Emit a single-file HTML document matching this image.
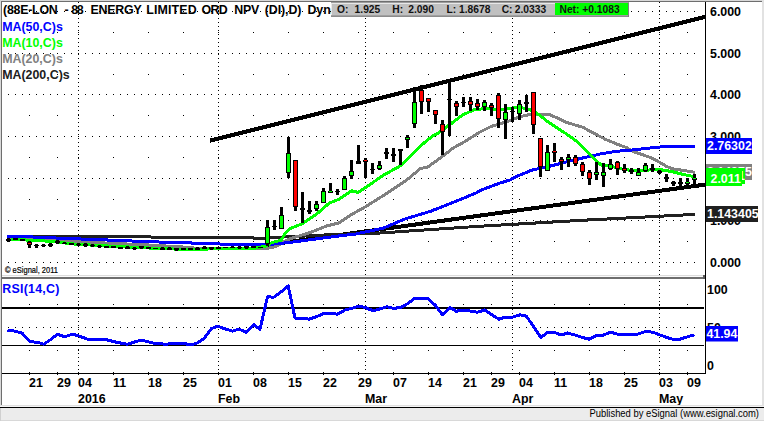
<!DOCTYPE html>
<html lang="en"><head><meta charset="utf-8"><title>88E-LON chart</title>
<style>
html,body{margin:0;padding:0;background:#fff;}
body{width:764px;height:421px;overflow:hidden;}
svg{display:block;}
text{white-space:pre;}
</style></head><body>
<svg width="764" height="421" viewBox="0 0 764 421">
<rect x="0" y="0" width="764" height="421" fill="#fff"/>
<g fill="#000" shape-rendering="crispEdges">
<rect x="8" y="11" width="1" height="1"/>
<rect x="15" y="11" width="1" height="1"/>
<rect x="22" y="11" width="1" height="1"/>
<rect x="29" y="11" width="1" height="1"/>
<rect x="36" y="11" width="1" height="1"/>
<rect x="43" y="11" width="1" height="1"/>
<rect x="50" y="11" width="1" height="1"/>
<rect x="57" y="11" width="1" height="1"/>
<rect x="64" y="11" width="1" height="1"/>
<rect x="71" y="11" width="1" height="1"/>
<rect x="78" y="11" width="1" height="1"/>
<rect x="85" y="11" width="1" height="1"/>
<rect x="92" y="11" width="1" height="1"/>
<rect x="99" y="11" width="1" height="1"/>
<rect x="106" y="11" width="1" height="1"/>
<rect x="113" y="11" width="1" height="1"/>
<rect x="120" y="11" width="1" height="1"/>
<rect x="127" y="11" width="1" height="1"/>
<rect x="134" y="11" width="1" height="1"/>
<rect x="141" y="11" width="1" height="1"/>
<rect x="148" y="11" width="1" height="1"/>
<rect x="155" y="11" width="1" height="1"/>
<rect x="162" y="11" width="1" height="1"/>
<rect x="169" y="11" width="1" height="1"/>
<rect x="176" y="11" width="1" height="1"/>
<rect x="183" y="11" width="1" height="1"/>
<rect x="190" y="11" width="1" height="1"/>
<rect x="197" y="11" width="1" height="1"/>
<rect x="204" y="11" width="1" height="1"/>
<rect x="211" y="11" width="1" height="1"/>
<rect x="218" y="11" width="1" height="1"/>
<rect x="225" y="11" width="1" height="1"/>
<rect x="232" y="11" width="1" height="1"/>
<rect x="239" y="11" width="1" height="1"/>
<rect x="246" y="11" width="1" height="1"/>
<rect x="253" y="11" width="1" height="1"/>
<rect x="260" y="11" width="1" height="1"/>
<rect x="267" y="11" width="1" height="1"/>
<rect x="274" y="11" width="1" height="1"/>
<rect x="281" y="11" width="1" height="1"/>
<rect x="288" y="11" width="1" height="1"/>
<rect x="295" y="11" width="1" height="1"/>
<rect x="302" y="11" width="1" height="1"/>
<rect x="309" y="11" width="1" height="1"/>
<rect x="316" y="11" width="1" height="1"/>
<rect x="323" y="11" width="1" height="1"/>
<rect x="330" y="11" width="1" height="1"/>
<rect x="337" y="11" width="1" height="1"/>
<rect x="344" y="11" width="1" height="1"/>
<rect x="351" y="11" width="1" height="1"/>
<rect x="358" y="11" width="1" height="1"/>
<rect x="365" y="11" width="1" height="1"/>
<rect x="372" y="11" width="1" height="1"/>
<rect x="379" y="11" width="1" height="1"/>
<rect x="386" y="11" width="1" height="1"/>
<rect x="393" y="11" width="1" height="1"/>
<rect x="400" y="11" width="1" height="1"/>
<rect x="407" y="11" width="1" height="1"/>
<rect x="414" y="11" width="1" height="1"/>
<rect x="421" y="11" width="1" height="1"/>
<rect x="428" y="11" width="1" height="1"/>
<rect x="435" y="11" width="1" height="1"/>
<rect x="442" y="11" width="1" height="1"/>
<rect x="449" y="11" width="1" height="1"/>
<rect x="456" y="11" width="1" height="1"/>
<rect x="463" y="11" width="1" height="1"/>
<rect x="470" y="11" width="1" height="1"/>
<rect x="477" y="11" width="1" height="1"/>
<rect x="484" y="11" width="1" height="1"/>
<rect x="491" y="11" width="1" height="1"/>
<rect x="498" y="11" width="1" height="1"/>
<rect x="505" y="11" width="1" height="1"/>
<rect x="512" y="11" width="1" height="1"/>
<rect x="519" y="11" width="1" height="1"/>
<rect x="526" y="11" width="1" height="1"/>
<rect x="533" y="11" width="1" height="1"/>
<rect x="540" y="11" width="1" height="1"/>
<rect x="547" y="11" width="1" height="1"/>
<rect x="554" y="11" width="1" height="1"/>
<rect x="561" y="11" width="1" height="1"/>
<rect x="568" y="11" width="1" height="1"/>
<rect x="575" y="11" width="1" height="1"/>
<rect x="582" y="11" width="1" height="1"/>
<rect x="589" y="11" width="1" height="1"/>
<rect x="596" y="11" width="1" height="1"/>
<rect x="603" y="11" width="1" height="1"/>
<rect x="610" y="11" width="1" height="1"/>
<rect x="617" y="11" width="1" height="1"/>
<rect x="624" y="11" width="1" height="1"/>
<rect x="631" y="11" width="1" height="1"/>
<rect x="638" y="11" width="1" height="1"/>
<rect x="645" y="11" width="1" height="1"/>
<rect x="652" y="11" width="1" height="1"/>
<rect x="659" y="11" width="1" height="1"/>
<rect x="666" y="11" width="1" height="1"/>
<rect x="673" y="11" width="1" height="1"/>
<rect x="680" y="11" width="1" height="1"/>
<rect x="687" y="11" width="1" height="1"/>
<rect x="694" y="11" width="1" height="1"/>
<rect x="8" y="53" width="1" height="1"/>
<rect x="15" y="53" width="1" height="1"/>
<rect x="22" y="53" width="1" height="1"/>
<rect x="29" y="53" width="1" height="1"/>
<rect x="36" y="53" width="1" height="1"/>
<rect x="43" y="53" width="1" height="1"/>
<rect x="50" y="53" width="1" height="1"/>
<rect x="57" y="53" width="1" height="1"/>
<rect x="64" y="53" width="1" height="1"/>
<rect x="71" y="53" width="1" height="1"/>
<rect x="78" y="53" width="1" height="1"/>
<rect x="85" y="53" width="1" height="1"/>
<rect x="92" y="53" width="1" height="1"/>
<rect x="99" y="53" width="1" height="1"/>
<rect x="106" y="53" width="1" height="1"/>
<rect x="113" y="53" width="1" height="1"/>
<rect x="120" y="53" width="1" height="1"/>
<rect x="127" y="53" width="1" height="1"/>
<rect x="134" y="53" width="1" height="1"/>
<rect x="141" y="53" width="1" height="1"/>
<rect x="148" y="53" width="1" height="1"/>
<rect x="155" y="53" width="1" height="1"/>
<rect x="162" y="53" width="1" height="1"/>
<rect x="169" y="53" width="1" height="1"/>
<rect x="176" y="53" width="1" height="1"/>
<rect x="183" y="53" width="1" height="1"/>
<rect x="190" y="53" width="1" height="1"/>
<rect x="197" y="53" width="1" height="1"/>
<rect x="204" y="53" width="1" height="1"/>
<rect x="211" y="53" width="1" height="1"/>
<rect x="218" y="53" width="1" height="1"/>
<rect x="225" y="53" width="1" height="1"/>
<rect x="232" y="53" width="1" height="1"/>
<rect x="239" y="53" width="1" height="1"/>
<rect x="246" y="53" width="1" height="1"/>
<rect x="253" y="53" width="1" height="1"/>
<rect x="260" y="53" width="1" height="1"/>
<rect x="267" y="53" width="1" height="1"/>
<rect x="274" y="53" width="1" height="1"/>
<rect x="281" y="53" width="1" height="1"/>
<rect x="288" y="53" width="1" height="1"/>
<rect x="295" y="53" width="1" height="1"/>
<rect x="302" y="53" width="1" height="1"/>
<rect x="309" y="53" width="1" height="1"/>
<rect x="316" y="53" width="1" height="1"/>
<rect x="323" y="53" width="1" height="1"/>
<rect x="330" y="53" width="1" height="1"/>
<rect x="337" y="53" width="1" height="1"/>
<rect x="344" y="53" width="1" height="1"/>
<rect x="351" y="53" width="1" height="1"/>
<rect x="358" y="53" width="1" height="1"/>
<rect x="365" y="53" width="1" height="1"/>
<rect x="372" y="53" width="1" height="1"/>
<rect x="379" y="53" width="1" height="1"/>
<rect x="386" y="53" width="1" height="1"/>
<rect x="393" y="53" width="1" height="1"/>
<rect x="400" y="53" width="1" height="1"/>
<rect x="407" y="53" width="1" height="1"/>
<rect x="414" y="53" width="1" height="1"/>
<rect x="421" y="53" width="1" height="1"/>
<rect x="428" y="53" width="1" height="1"/>
<rect x="435" y="53" width="1" height="1"/>
<rect x="442" y="53" width="1" height="1"/>
<rect x="449" y="53" width="1" height="1"/>
<rect x="456" y="53" width="1" height="1"/>
<rect x="463" y="53" width="1" height="1"/>
<rect x="470" y="53" width="1" height="1"/>
<rect x="477" y="53" width="1" height="1"/>
<rect x="484" y="53" width="1" height="1"/>
<rect x="491" y="53" width="1" height="1"/>
<rect x="498" y="53" width="1" height="1"/>
<rect x="505" y="53" width="1" height="1"/>
<rect x="512" y="53" width="1" height="1"/>
<rect x="519" y="53" width="1" height="1"/>
<rect x="526" y="53" width="1" height="1"/>
<rect x="533" y="53" width="1" height="1"/>
<rect x="540" y="53" width="1" height="1"/>
<rect x="547" y="53" width="1" height="1"/>
<rect x="554" y="53" width="1" height="1"/>
<rect x="561" y="53" width="1" height="1"/>
<rect x="568" y="53" width="1" height="1"/>
<rect x="575" y="53" width="1" height="1"/>
<rect x="582" y="53" width="1" height="1"/>
<rect x="589" y="53" width="1" height="1"/>
<rect x="596" y="53" width="1" height="1"/>
<rect x="603" y="53" width="1" height="1"/>
<rect x="610" y="53" width="1" height="1"/>
<rect x="617" y="53" width="1" height="1"/>
<rect x="624" y="53" width="1" height="1"/>
<rect x="631" y="53" width="1" height="1"/>
<rect x="638" y="53" width="1" height="1"/>
<rect x="645" y="53" width="1" height="1"/>
<rect x="652" y="53" width="1" height="1"/>
<rect x="659" y="53" width="1" height="1"/>
<rect x="666" y="53" width="1" height="1"/>
<rect x="673" y="53" width="1" height="1"/>
<rect x="680" y="53" width="1" height="1"/>
<rect x="687" y="53" width="1" height="1"/>
<rect x="694" y="53" width="1" height="1"/>
<rect x="8" y="94" width="1" height="1"/>
<rect x="15" y="94" width="1" height="1"/>
<rect x="22" y="94" width="1" height="1"/>
<rect x="29" y="94" width="1" height="1"/>
<rect x="36" y="94" width="1" height="1"/>
<rect x="43" y="94" width="1" height="1"/>
<rect x="50" y="94" width="1" height="1"/>
<rect x="57" y="94" width="1" height="1"/>
<rect x="64" y="94" width="1" height="1"/>
<rect x="71" y="94" width="1" height="1"/>
<rect x="78" y="94" width="1" height="1"/>
<rect x="85" y="94" width="1" height="1"/>
<rect x="92" y="94" width="1" height="1"/>
<rect x="99" y="94" width="1" height="1"/>
<rect x="106" y="94" width="1" height="1"/>
<rect x="113" y="94" width="1" height="1"/>
<rect x="120" y="94" width="1" height="1"/>
<rect x="127" y="94" width="1" height="1"/>
<rect x="134" y="94" width="1" height="1"/>
<rect x="141" y="94" width="1" height="1"/>
<rect x="148" y="94" width="1" height="1"/>
<rect x="155" y="94" width="1" height="1"/>
<rect x="162" y="94" width="1" height="1"/>
<rect x="169" y="94" width="1" height="1"/>
<rect x="176" y="94" width="1" height="1"/>
<rect x="183" y="94" width="1" height="1"/>
<rect x="190" y="94" width="1" height="1"/>
<rect x="197" y="94" width="1" height="1"/>
<rect x="204" y="94" width="1" height="1"/>
<rect x="211" y="94" width="1" height="1"/>
<rect x="218" y="94" width="1" height="1"/>
<rect x="225" y="94" width="1" height="1"/>
<rect x="232" y="94" width="1" height="1"/>
<rect x="239" y="94" width="1" height="1"/>
<rect x="246" y="94" width="1" height="1"/>
<rect x="253" y="94" width="1" height="1"/>
<rect x="260" y="94" width="1" height="1"/>
<rect x="267" y="94" width="1" height="1"/>
<rect x="274" y="94" width="1" height="1"/>
<rect x="281" y="94" width="1" height="1"/>
<rect x="288" y="94" width="1" height="1"/>
<rect x="295" y="94" width="1" height="1"/>
<rect x="302" y="94" width="1" height="1"/>
<rect x="309" y="94" width="1" height="1"/>
<rect x="316" y="94" width="1" height="1"/>
<rect x="323" y="94" width="1" height="1"/>
<rect x="330" y="94" width="1" height="1"/>
<rect x="337" y="94" width="1" height="1"/>
<rect x="344" y="94" width="1" height="1"/>
<rect x="351" y="94" width="1" height="1"/>
<rect x="358" y="94" width="1" height="1"/>
<rect x="365" y="94" width="1" height="1"/>
<rect x="372" y="94" width="1" height="1"/>
<rect x="379" y="94" width="1" height="1"/>
<rect x="386" y="94" width="1" height="1"/>
<rect x="393" y="94" width="1" height="1"/>
<rect x="400" y="94" width="1" height="1"/>
<rect x="407" y="94" width="1" height="1"/>
<rect x="414" y="94" width="1" height="1"/>
<rect x="421" y="94" width="1" height="1"/>
<rect x="428" y="94" width="1" height="1"/>
<rect x="435" y="94" width="1" height="1"/>
<rect x="442" y="94" width="1" height="1"/>
<rect x="449" y="94" width="1" height="1"/>
<rect x="456" y="94" width="1" height="1"/>
<rect x="463" y="94" width="1" height="1"/>
<rect x="470" y="94" width="1" height="1"/>
<rect x="477" y="94" width="1" height="1"/>
<rect x="484" y="94" width="1" height="1"/>
<rect x="491" y="94" width="1" height="1"/>
<rect x="498" y="94" width="1" height="1"/>
<rect x="505" y="94" width="1" height="1"/>
<rect x="512" y="94" width="1" height="1"/>
<rect x="519" y="94" width="1" height="1"/>
<rect x="526" y="94" width="1" height="1"/>
<rect x="533" y="94" width="1" height="1"/>
<rect x="540" y="94" width="1" height="1"/>
<rect x="547" y="94" width="1" height="1"/>
<rect x="554" y="94" width="1" height="1"/>
<rect x="561" y="94" width="1" height="1"/>
<rect x="568" y="94" width="1" height="1"/>
<rect x="575" y="94" width="1" height="1"/>
<rect x="582" y="94" width="1" height="1"/>
<rect x="589" y="94" width="1" height="1"/>
<rect x="596" y="94" width="1" height="1"/>
<rect x="603" y="94" width="1" height="1"/>
<rect x="610" y="94" width="1" height="1"/>
<rect x="617" y="94" width="1" height="1"/>
<rect x="624" y="94" width="1" height="1"/>
<rect x="631" y="94" width="1" height="1"/>
<rect x="638" y="94" width="1" height="1"/>
<rect x="645" y="94" width="1" height="1"/>
<rect x="652" y="94" width="1" height="1"/>
<rect x="659" y="94" width="1" height="1"/>
<rect x="666" y="94" width="1" height="1"/>
<rect x="673" y="94" width="1" height="1"/>
<rect x="680" y="94" width="1" height="1"/>
<rect x="687" y="94" width="1" height="1"/>
<rect x="694" y="94" width="1" height="1"/>
<rect x="8" y="136" width="1" height="1"/>
<rect x="15" y="136" width="1" height="1"/>
<rect x="22" y="136" width="1" height="1"/>
<rect x="29" y="136" width="1" height="1"/>
<rect x="36" y="136" width="1" height="1"/>
<rect x="43" y="136" width="1" height="1"/>
<rect x="50" y="136" width="1" height="1"/>
<rect x="57" y="136" width="1" height="1"/>
<rect x="64" y="136" width="1" height="1"/>
<rect x="71" y="136" width="1" height="1"/>
<rect x="78" y="136" width="1" height="1"/>
<rect x="85" y="136" width="1" height="1"/>
<rect x="92" y="136" width="1" height="1"/>
<rect x="99" y="136" width="1" height="1"/>
<rect x="106" y="136" width="1" height="1"/>
<rect x="113" y="136" width="1" height="1"/>
<rect x="120" y="136" width="1" height="1"/>
<rect x="127" y="136" width="1" height="1"/>
<rect x="134" y="136" width="1" height="1"/>
<rect x="141" y="136" width="1" height="1"/>
<rect x="148" y="136" width="1" height="1"/>
<rect x="155" y="136" width="1" height="1"/>
<rect x="162" y="136" width="1" height="1"/>
<rect x="169" y="136" width="1" height="1"/>
<rect x="176" y="136" width="1" height="1"/>
<rect x="183" y="136" width="1" height="1"/>
<rect x="190" y="136" width="1" height="1"/>
<rect x="197" y="136" width="1" height="1"/>
<rect x="204" y="136" width="1" height="1"/>
<rect x="211" y="136" width="1" height="1"/>
<rect x="218" y="136" width="1" height="1"/>
<rect x="225" y="136" width="1" height="1"/>
<rect x="232" y="136" width="1" height="1"/>
<rect x="239" y="136" width="1" height="1"/>
<rect x="246" y="136" width="1" height="1"/>
<rect x="253" y="136" width="1" height="1"/>
<rect x="260" y="136" width="1" height="1"/>
<rect x="267" y="136" width="1" height="1"/>
<rect x="274" y="136" width="1" height="1"/>
<rect x="281" y="136" width="1" height="1"/>
<rect x="288" y="136" width="1" height="1"/>
<rect x="295" y="136" width="1" height="1"/>
<rect x="302" y="136" width="1" height="1"/>
<rect x="309" y="136" width="1" height="1"/>
<rect x="316" y="136" width="1" height="1"/>
<rect x="323" y="136" width="1" height="1"/>
<rect x="330" y="136" width="1" height="1"/>
<rect x="337" y="136" width="1" height="1"/>
<rect x="344" y="136" width="1" height="1"/>
<rect x="351" y="136" width="1" height="1"/>
<rect x="358" y="136" width="1" height="1"/>
<rect x="365" y="136" width="1" height="1"/>
<rect x="372" y="136" width="1" height="1"/>
<rect x="379" y="136" width="1" height="1"/>
<rect x="386" y="136" width="1" height="1"/>
<rect x="393" y="136" width="1" height="1"/>
<rect x="400" y="136" width="1" height="1"/>
<rect x="407" y="136" width="1" height="1"/>
<rect x="414" y="136" width="1" height="1"/>
<rect x="421" y="136" width="1" height="1"/>
<rect x="428" y="136" width="1" height="1"/>
<rect x="435" y="136" width="1" height="1"/>
<rect x="442" y="136" width="1" height="1"/>
<rect x="449" y="136" width="1" height="1"/>
<rect x="456" y="136" width="1" height="1"/>
<rect x="463" y="136" width="1" height="1"/>
<rect x="470" y="136" width="1" height="1"/>
<rect x="477" y="136" width="1" height="1"/>
<rect x="484" y="136" width="1" height="1"/>
<rect x="491" y="136" width="1" height="1"/>
<rect x="498" y="136" width="1" height="1"/>
<rect x="505" y="136" width="1" height="1"/>
<rect x="512" y="136" width="1" height="1"/>
<rect x="519" y="136" width="1" height="1"/>
<rect x="526" y="136" width="1" height="1"/>
<rect x="533" y="136" width="1" height="1"/>
<rect x="540" y="136" width="1" height="1"/>
<rect x="547" y="136" width="1" height="1"/>
<rect x="554" y="136" width="1" height="1"/>
<rect x="561" y="136" width="1" height="1"/>
<rect x="568" y="136" width="1" height="1"/>
<rect x="575" y="136" width="1" height="1"/>
<rect x="582" y="136" width="1" height="1"/>
<rect x="589" y="136" width="1" height="1"/>
<rect x="596" y="136" width="1" height="1"/>
<rect x="603" y="136" width="1" height="1"/>
<rect x="610" y="136" width="1" height="1"/>
<rect x="617" y="136" width="1" height="1"/>
<rect x="624" y="136" width="1" height="1"/>
<rect x="631" y="136" width="1" height="1"/>
<rect x="638" y="136" width="1" height="1"/>
<rect x="645" y="136" width="1" height="1"/>
<rect x="652" y="136" width="1" height="1"/>
<rect x="659" y="136" width="1" height="1"/>
<rect x="666" y="136" width="1" height="1"/>
<rect x="673" y="136" width="1" height="1"/>
<rect x="680" y="136" width="1" height="1"/>
<rect x="687" y="136" width="1" height="1"/>
<rect x="694" y="136" width="1" height="1"/>
<rect x="8" y="178" width="1" height="1"/>
<rect x="15" y="178" width="1" height="1"/>
<rect x="22" y="178" width="1" height="1"/>
<rect x="29" y="178" width="1" height="1"/>
<rect x="36" y="178" width="1" height="1"/>
<rect x="43" y="178" width="1" height="1"/>
<rect x="50" y="178" width="1" height="1"/>
<rect x="57" y="178" width="1" height="1"/>
<rect x="64" y="178" width="1" height="1"/>
<rect x="71" y="178" width="1" height="1"/>
<rect x="78" y="178" width="1" height="1"/>
<rect x="85" y="178" width="1" height="1"/>
<rect x="92" y="178" width="1" height="1"/>
<rect x="99" y="178" width="1" height="1"/>
<rect x="106" y="178" width="1" height="1"/>
<rect x="113" y="178" width="1" height="1"/>
<rect x="120" y="178" width="1" height="1"/>
<rect x="127" y="178" width="1" height="1"/>
<rect x="134" y="178" width="1" height="1"/>
<rect x="141" y="178" width="1" height="1"/>
<rect x="148" y="178" width="1" height="1"/>
<rect x="155" y="178" width="1" height="1"/>
<rect x="162" y="178" width="1" height="1"/>
<rect x="169" y="178" width="1" height="1"/>
<rect x="176" y="178" width="1" height="1"/>
<rect x="183" y="178" width="1" height="1"/>
<rect x="190" y="178" width="1" height="1"/>
<rect x="197" y="178" width="1" height="1"/>
<rect x="204" y="178" width="1" height="1"/>
<rect x="211" y="178" width="1" height="1"/>
<rect x="218" y="178" width="1" height="1"/>
<rect x="225" y="178" width="1" height="1"/>
<rect x="232" y="178" width="1" height="1"/>
<rect x="239" y="178" width="1" height="1"/>
<rect x="246" y="178" width="1" height="1"/>
<rect x="253" y="178" width="1" height="1"/>
<rect x="260" y="178" width="1" height="1"/>
<rect x="267" y="178" width="1" height="1"/>
<rect x="274" y="178" width="1" height="1"/>
<rect x="281" y="178" width="1" height="1"/>
<rect x="288" y="178" width="1" height="1"/>
<rect x="295" y="178" width="1" height="1"/>
<rect x="302" y="178" width="1" height="1"/>
<rect x="309" y="178" width="1" height="1"/>
<rect x="316" y="178" width="1" height="1"/>
<rect x="323" y="178" width="1" height="1"/>
<rect x="330" y="178" width="1" height="1"/>
<rect x="337" y="178" width="1" height="1"/>
<rect x="344" y="178" width="1" height="1"/>
<rect x="351" y="178" width="1" height="1"/>
<rect x="358" y="178" width="1" height="1"/>
<rect x="365" y="178" width="1" height="1"/>
<rect x="372" y="178" width="1" height="1"/>
<rect x="379" y="178" width="1" height="1"/>
<rect x="386" y="178" width="1" height="1"/>
<rect x="393" y="178" width="1" height="1"/>
<rect x="400" y="178" width="1" height="1"/>
<rect x="407" y="178" width="1" height="1"/>
<rect x="414" y="178" width="1" height="1"/>
<rect x="421" y="178" width="1" height="1"/>
<rect x="428" y="178" width="1" height="1"/>
<rect x="435" y="178" width="1" height="1"/>
<rect x="442" y="178" width="1" height="1"/>
<rect x="449" y="178" width="1" height="1"/>
<rect x="456" y="178" width="1" height="1"/>
<rect x="463" y="178" width="1" height="1"/>
<rect x="470" y="178" width="1" height="1"/>
<rect x="477" y="178" width="1" height="1"/>
<rect x="484" y="178" width="1" height="1"/>
<rect x="491" y="178" width="1" height="1"/>
<rect x="498" y="178" width="1" height="1"/>
<rect x="505" y="178" width="1" height="1"/>
<rect x="512" y="178" width="1" height="1"/>
<rect x="519" y="178" width="1" height="1"/>
<rect x="526" y="178" width="1" height="1"/>
<rect x="533" y="178" width="1" height="1"/>
<rect x="540" y="178" width="1" height="1"/>
<rect x="547" y="178" width="1" height="1"/>
<rect x="554" y="178" width="1" height="1"/>
<rect x="561" y="178" width="1" height="1"/>
<rect x="568" y="178" width="1" height="1"/>
<rect x="575" y="178" width="1" height="1"/>
<rect x="582" y="178" width="1" height="1"/>
<rect x="589" y="178" width="1" height="1"/>
<rect x="596" y="178" width="1" height="1"/>
<rect x="603" y="178" width="1" height="1"/>
<rect x="610" y="178" width="1" height="1"/>
<rect x="617" y="178" width="1" height="1"/>
<rect x="624" y="178" width="1" height="1"/>
<rect x="631" y="178" width="1" height="1"/>
<rect x="638" y="178" width="1" height="1"/>
<rect x="645" y="178" width="1" height="1"/>
<rect x="652" y="178" width="1" height="1"/>
<rect x="659" y="178" width="1" height="1"/>
<rect x="666" y="178" width="1" height="1"/>
<rect x="673" y="178" width="1" height="1"/>
<rect x="680" y="178" width="1" height="1"/>
<rect x="687" y="178" width="1" height="1"/>
<rect x="694" y="178" width="1" height="1"/>
<rect x="8" y="220" width="1" height="1"/>
<rect x="15" y="220" width="1" height="1"/>
<rect x="22" y="220" width="1" height="1"/>
<rect x="29" y="220" width="1" height="1"/>
<rect x="36" y="220" width="1" height="1"/>
<rect x="43" y="220" width="1" height="1"/>
<rect x="50" y="220" width="1" height="1"/>
<rect x="57" y="220" width="1" height="1"/>
<rect x="64" y="220" width="1" height="1"/>
<rect x="71" y="220" width="1" height="1"/>
<rect x="78" y="220" width="1" height="1"/>
<rect x="85" y="220" width="1" height="1"/>
<rect x="92" y="220" width="1" height="1"/>
<rect x="99" y="220" width="1" height="1"/>
<rect x="106" y="220" width="1" height="1"/>
<rect x="113" y="220" width="1" height="1"/>
<rect x="120" y="220" width="1" height="1"/>
<rect x="127" y="220" width="1" height="1"/>
<rect x="134" y="220" width="1" height="1"/>
<rect x="141" y="220" width="1" height="1"/>
<rect x="148" y="220" width="1" height="1"/>
<rect x="155" y="220" width="1" height="1"/>
<rect x="162" y="220" width="1" height="1"/>
<rect x="169" y="220" width="1" height="1"/>
<rect x="176" y="220" width="1" height="1"/>
<rect x="183" y="220" width="1" height="1"/>
<rect x="190" y="220" width="1" height="1"/>
<rect x="197" y="220" width="1" height="1"/>
<rect x="204" y="220" width="1" height="1"/>
<rect x="211" y="220" width="1" height="1"/>
<rect x="218" y="220" width="1" height="1"/>
<rect x="225" y="220" width="1" height="1"/>
<rect x="232" y="220" width="1" height="1"/>
<rect x="239" y="220" width="1" height="1"/>
<rect x="246" y="220" width="1" height="1"/>
<rect x="253" y="220" width="1" height="1"/>
<rect x="260" y="220" width="1" height="1"/>
<rect x="267" y="220" width="1" height="1"/>
<rect x="274" y="220" width="1" height="1"/>
<rect x="281" y="220" width="1" height="1"/>
<rect x="288" y="220" width="1" height="1"/>
<rect x="295" y="220" width="1" height="1"/>
<rect x="302" y="220" width="1" height="1"/>
<rect x="309" y="220" width="1" height="1"/>
<rect x="316" y="220" width="1" height="1"/>
<rect x="323" y="220" width="1" height="1"/>
<rect x="330" y="220" width="1" height="1"/>
<rect x="337" y="220" width="1" height="1"/>
<rect x="344" y="220" width="1" height="1"/>
<rect x="351" y="220" width="1" height="1"/>
<rect x="358" y="220" width="1" height="1"/>
<rect x="365" y="220" width="1" height="1"/>
<rect x="372" y="220" width="1" height="1"/>
<rect x="379" y="220" width="1" height="1"/>
<rect x="386" y="220" width="1" height="1"/>
<rect x="393" y="220" width="1" height="1"/>
<rect x="400" y="220" width="1" height="1"/>
<rect x="407" y="220" width="1" height="1"/>
<rect x="414" y="220" width="1" height="1"/>
<rect x="421" y="220" width="1" height="1"/>
<rect x="428" y="220" width="1" height="1"/>
<rect x="435" y="220" width="1" height="1"/>
<rect x="442" y="220" width="1" height="1"/>
<rect x="449" y="220" width="1" height="1"/>
<rect x="456" y="220" width="1" height="1"/>
<rect x="463" y="220" width="1" height="1"/>
<rect x="470" y="220" width="1" height="1"/>
<rect x="477" y="220" width="1" height="1"/>
<rect x="484" y="220" width="1" height="1"/>
<rect x="491" y="220" width="1" height="1"/>
<rect x="498" y="220" width="1" height="1"/>
<rect x="505" y="220" width="1" height="1"/>
<rect x="512" y="220" width="1" height="1"/>
<rect x="519" y="220" width="1" height="1"/>
<rect x="526" y="220" width="1" height="1"/>
<rect x="533" y="220" width="1" height="1"/>
<rect x="540" y="220" width="1" height="1"/>
<rect x="547" y="220" width="1" height="1"/>
<rect x="554" y="220" width="1" height="1"/>
<rect x="561" y="220" width="1" height="1"/>
<rect x="568" y="220" width="1" height="1"/>
<rect x="575" y="220" width="1" height="1"/>
<rect x="582" y="220" width="1" height="1"/>
<rect x="589" y="220" width="1" height="1"/>
<rect x="596" y="220" width="1" height="1"/>
<rect x="603" y="220" width="1" height="1"/>
<rect x="610" y="220" width="1" height="1"/>
<rect x="617" y="220" width="1" height="1"/>
<rect x="624" y="220" width="1" height="1"/>
<rect x="631" y="220" width="1" height="1"/>
<rect x="638" y="220" width="1" height="1"/>
<rect x="645" y="220" width="1" height="1"/>
<rect x="652" y="220" width="1" height="1"/>
<rect x="659" y="220" width="1" height="1"/>
<rect x="666" y="220" width="1" height="1"/>
<rect x="673" y="220" width="1" height="1"/>
<rect x="680" y="220" width="1" height="1"/>
<rect x="687" y="220" width="1" height="1"/>
<rect x="694" y="220" width="1" height="1"/>
<rect x="8" y="262" width="1" height="1"/>
<rect x="15" y="262" width="1" height="1"/>
<rect x="22" y="262" width="1" height="1"/>
<rect x="29" y="262" width="1" height="1"/>
<rect x="36" y="262" width="1" height="1"/>
<rect x="43" y="262" width="1" height="1"/>
<rect x="50" y="262" width="1" height="1"/>
<rect x="57" y="262" width="1" height="1"/>
<rect x="64" y="262" width="1" height="1"/>
<rect x="71" y="262" width="1" height="1"/>
<rect x="78" y="262" width="1" height="1"/>
<rect x="85" y="262" width="1" height="1"/>
<rect x="92" y="262" width="1" height="1"/>
<rect x="99" y="262" width="1" height="1"/>
<rect x="106" y="262" width="1" height="1"/>
<rect x="113" y="262" width="1" height="1"/>
<rect x="120" y="262" width="1" height="1"/>
<rect x="127" y="262" width="1" height="1"/>
<rect x="134" y="262" width="1" height="1"/>
<rect x="141" y="262" width="1" height="1"/>
<rect x="148" y="262" width="1" height="1"/>
<rect x="155" y="262" width="1" height="1"/>
<rect x="162" y="262" width="1" height="1"/>
<rect x="169" y="262" width="1" height="1"/>
<rect x="176" y="262" width="1" height="1"/>
<rect x="183" y="262" width="1" height="1"/>
<rect x="190" y="262" width="1" height="1"/>
<rect x="197" y="262" width="1" height="1"/>
<rect x="204" y="262" width="1" height="1"/>
<rect x="211" y="262" width="1" height="1"/>
<rect x="218" y="262" width="1" height="1"/>
<rect x="225" y="262" width="1" height="1"/>
<rect x="232" y="262" width="1" height="1"/>
<rect x="239" y="262" width="1" height="1"/>
<rect x="246" y="262" width="1" height="1"/>
<rect x="253" y="262" width="1" height="1"/>
<rect x="260" y="262" width="1" height="1"/>
<rect x="267" y="262" width="1" height="1"/>
<rect x="274" y="262" width="1" height="1"/>
<rect x="281" y="262" width="1" height="1"/>
<rect x="288" y="262" width="1" height="1"/>
<rect x="295" y="262" width="1" height="1"/>
<rect x="302" y="262" width="1" height="1"/>
<rect x="309" y="262" width="1" height="1"/>
<rect x="316" y="262" width="1" height="1"/>
<rect x="323" y="262" width="1" height="1"/>
<rect x="330" y="262" width="1" height="1"/>
<rect x="337" y="262" width="1" height="1"/>
<rect x="344" y="262" width="1" height="1"/>
<rect x="351" y="262" width="1" height="1"/>
<rect x="358" y="262" width="1" height="1"/>
<rect x="365" y="262" width="1" height="1"/>
<rect x="372" y="262" width="1" height="1"/>
<rect x="379" y="262" width="1" height="1"/>
<rect x="386" y="262" width="1" height="1"/>
<rect x="393" y="262" width="1" height="1"/>
<rect x="400" y="262" width="1" height="1"/>
<rect x="407" y="262" width="1" height="1"/>
<rect x="414" y="262" width="1" height="1"/>
<rect x="421" y="262" width="1" height="1"/>
<rect x="428" y="262" width="1" height="1"/>
<rect x="435" y="262" width="1" height="1"/>
<rect x="442" y="262" width="1" height="1"/>
<rect x="449" y="262" width="1" height="1"/>
<rect x="456" y="262" width="1" height="1"/>
<rect x="463" y="262" width="1" height="1"/>
<rect x="470" y="262" width="1" height="1"/>
<rect x="477" y="262" width="1" height="1"/>
<rect x="484" y="262" width="1" height="1"/>
<rect x="491" y="262" width="1" height="1"/>
<rect x="498" y="262" width="1" height="1"/>
<rect x="505" y="262" width="1" height="1"/>
<rect x="512" y="262" width="1" height="1"/>
<rect x="519" y="262" width="1" height="1"/>
<rect x="526" y="262" width="1" height="1"/>
<rect x="533" y="262" width="1" height="1"/>
<rect x="540" y="262" width="1" height="1"/>
<rect x="547" y="262" width="1" height="1"/>
<rect x="554" y="262" width="1" height="1"/>
<rect x="561" y="262" width="1" height="1"/>
<rect x="568" y="262" width="1" height="1"/>
<rect x="575" y="262" width="1" height="1"/>
<rect x="582" y="262" width="1" height="1"/>
<rect x="589" y="262" width="1" height="1"/>
<rect x="596" y="262" width="1" height="1"/>
<rect x="603" y="262" width="1" height="1"/>
<rect x="610" y="262" width="1" height="1"/>
<rect x="617" y="262" width="1" height="1"/>
<rect x="624" y="262" width="1" height="1"/>
<rect x="631" y="262" width="1" height="1"/>
<rect x="638" y="262" width="1" height="1"/>
<rect x="645" y="262" width="1" height="1"/>
<rect x="652" y="262" width="1" height="1"/>
<rect x="659" y="262" width="1" height="1"/>
<rect x="666" y="262" width="1" height="1"/>
<rect x="673" y="262" width="1" height="1"/>
<rect x="680" y="262" width="1" height="1"/>
<rect x="687" y="262" width="1" height="1"/>
<rect x="694" y="262" width="1" height="1"/>
<rect x="29" y="32" width="1" height="1"/>
<rect x="57" y="32" width="1" height="1"/>
<rect x="78" y="32" width="1" height="1"/>
<rect x="113" y="32" width="1" height="1"/>
<rect x="148" y="32" width="1" height="1"/>
<rect x="183" y="32" width="1" height="1"/>
<rect x="218" y="32" width="1" height="1"/>
<rect x="253" y="32" width="1" height="1"/>
<rect x="288" y="32" width="1" height="1"/>
<rect x="323" y="32" width="1" height="1"/>
<rect x="358" y="32" width="1" height="1"/>
<rect x="393" y="32" width="1" height="1"/>
<rect x="428" y="32" width="1" height="1"/>
<rect x="463" y="32" width="1" height="1"/>
<rect x="491" y="32" width="1" height="1"/>
<rect x="519" y="32" width="1" height="1"/>
<rect x="554" y="32" width="1" height="1"/>
<rect x="589" y="32" width="1" height="1"/>
<rect x="624" y="32" width="1" height="1"/>
<rect x="659" y="32" width="1" height="1"/>
<rect x="687" y="32" width="1" height="1"/>
<rect x="29" y="74" width="1" height="1"/>
<rect x="57" y="74" width="1" height="1"/>
<rect x="78" y="74" width="1" height="1"/>
<rect x="113" y="74" width="1" height="1"/>
<rect x="148" y="74" width="1" height="1"/>
<rect x="183" y="74" width="1" height="1"/>
<rect x="218" y="74" width="1" height="1"/>
<rect x="253" y="74" width="1" height="1"/>
<rect x="288" y="74" width="1" height="1"/>
<rect x="323" y="74" width="1" height="1"/>
<rect x="358" y="74" width="1" height="1"/>
<rect x="393" y="74" width="1" height="1"/>
<rect x="428" y="74" width="1" height="1"/>
<rect x="463" y="74" width="1" height="1"/>
<rect x="491" y="74" width="1" height="1"/>
<rect x="519" y="74" width="1" height="1"/>
<rect x="554" y="74" width="1" height="1"/>
<rect x="589" y="74" width="1" height="1"/>
<rect x="624" y="74" width="1" height="1"/>
<rect x="659" y="74" width="1" height="1"/>
<rect x="687" y="74" width="1" height="1"/>
<rect x="29" y="115" width="1" height="1"/>
<rect x="57" y="115" width="1" height="1"/>
<rect x="78" y="115" width="1" height="1"/>
<rect x="113" y="115" width="1" height="1"/>
<rect x="148" y="115" width="1" height="1"/>
<rect x="183" y="115" width="1" height="1"/>
<rect x="218" y="115" width="1" height="1"/>
<rect x="253" y="115" width="1" height="1"/>
<rect x="288" y="115" width="1" height="1"/>
<rect x="323" y="115" width="1" height="1"/>
<rect x="358" y="115" width="1" height="1"/>
<rect x="393" y="115" width="1" height="1"/>
<rect x="428" y="115" width="1" height="1"/>
<rect x="463" y="115" width="1" height="1"/>
<rect x="491" y="115" width="1" height="1"/>
<rect x="519" y="115" width="1" height="1"/>
<rect x="554" y="115" width="1" height="1"/>
<rect x="589" y="115" width="1" height="1"/>
<rect x="624" y="115" width="1" height="1"/>
<rect x="659" y="115" width="1" height="1"/>
<rect x="687" y="115" width="1" height="1"/>
<rect x="29" y="157" width="1" height="1"/>
<rect x="57" y="157" width="1" height="1"/>
<rect x="78" y="157" width="1" height="1"/>
<rect x="113" y="157" width="1" height="1"/>
<rect x="148" y="157" width="1" height="1"/>
<rect x="183" y="157" width="1" height="1"/>
<rect x="218" y="157" width="1" height="1"/>
<rect x="253" y="157" width="1" height="1"/>
<rect x="288" y="157" width="1" height="1"/>
<rect x="323" y="157" width="1" height="1"/>
<rect x="358" y="157" width="1" height="1"/>
<rect x="393" y="157" width="1" height="1"/>
<rect x="428" y="157" width="1" height="1"/>
<rect x="463" y="157" width="1" height="1"/>
<rect x="491" y="157" width="1" height="1"/>
<rect x="519" y="157" width="1" height="1"/>
<rect x="554" y="157" width="1" height="1"/>
<rect x="589" y="157" width="1" height="1"/>
<rect x="624" y="157" width="1" height="1"/>
<rect x="659" y="157" width="1" height="1"/>
<rect x="687" y="157" width="1" height="1"/>
<rect x="29" y="199" width="1" height="1"/>
<rect x="57" y="199" width="1" height="1"/>
<rect x="78" y="199" width="1" height="1"/>
<rect x="113" y="199" width="1" height="1"/>
<rect x="148" y="199" width="1" height="1"/>
<rect x="183" y="199" width="1" height="1"/>
<rect x="218" y="199" width="1" height="1"/>
<rect x="253" y="199" width="1" height="1"/>
<rect x="288" y="199" width="1" height="1"/>
<rect x="323" y="199" width="1" height="1"/>
<rect x="358" y="199" width="1" height="1"/>
<rect x="393" y="199" width="1" height="1"/>
<rect x="428" y="199" width="1" height="1"/>
<rect x="463" y="199" width="1" height="1"/>
<rect x="491" y="199" width="1" height="1"/>
<rect x="519" y="199" width="1" height="1"/>
<rect x="554" y="199" width="1" height="1"/>
<rect x="589" y="199" width="1" height="1"/>
<rect x="624" y="199" width="1" height="1"/>
<rect x="659" y="199" width="1" height="1"/>
<rect x="687" y="199" width="1" height="1"/>
<rect x="29" y="241" width="1" height="1"/>
<rect x="57" y="241" width="1" height="1"/>
<rect x="78" y="241" width="1" height="1"/>
<rect x="113" y="241" width="1" height="1"/>
<rect x="148" y="241" width="1" height="1"/>
<rect x="183" y="241" width="1" height="1"/>
<rect x="218" y="241" width="1" height="1"/>
<rect x="253" y="241" width="1" height="1"/>
<rect x="288" y="241" width="1" height="1"/>
<rect x="323" y="241" width="1" height="1"/>
<rect x="358" y="241" width="1" height="1"/>
<rect x="393" y="241" width="1" height="1"/>
<rect x="428" y="241" width="1" height="1"/>
<rect x="463" y="241" width="1" height="1"/>
<rect x="491" y="241" width="1" height="1"/>
<rect x="519" y="241" width="1" height="1"/>
<rect x="554" y="241" width="1" height="1"/>
<rect x="589" y="241" width="1" height="1"/>
<rect x="624" y="241" width="1" height="1"/>
<rect x="659" y="241" width="1" height="1"/>
<rect x="687" y="241" width="1" height="1"/>
<rect x="78" y="2" width="1" height="1"/>
<rect x="78" y="6" width="1" height="1"/>
<rect x="78" y="10" width="1" height="1"/>
<rect x="78" y="14" width="1" height="1"/>
<rect x="78" y="18" width="1" height="1"/>
<rect x="78" y="22" width="1" height="1"/>
<rect x="78" y="26" width="1" height="1"/>
<rect x="78" y="30" width="1" height="1"/>
<rect x="78" y="34" width="1" height="1"/>
<rect x="78" y="38" width="1" height="1"/>
<rect x="78" y="42" width="1" height="1"/>
<rect x="78" y="46" width="1" height="1"/>
<rect x="78" y="50" width="1" height="1"/>
<rect x="78" y="54" width="1" height="1"/>
<rect x="78" y="58" width="1" height="1"/>
<rect x="78" y="62" width="1" height="1"/>
<rect x="78" y="66" width="1" height="1"/>
<rect x="78" y="70" width="1" height="1"/>
<rect x="78" y="74" width="1" height="1"/>
<rect x="78" y="78" width="1" height="1"/>
<rect x="78" y="82" width="1" height="1"/>
<rect x="78" y="86" width="1" height="1"/>
<rect x="78" y="90" width="1" height="1"/>
<rect x="78" y="94" width="1" height="1"/>
<rect x="78" y="98" width="1" height="1"/>
<rect x="78" y="102" width="1" height="1"/>
<rect x="78" y="106" width="1" height="1"/>
<rect x="78" y="110" width="1" height="1"/>
<rect x="78" y="114" width="1" height="1"/>
<rect x="78" y="118" width="1" height="1"/>
<rect x="78" y="122" width="1" height="1"/>
<rect x="78" y="126" width="1" height="1"/>
<rect x="78" y="130" width="1" height="1"/>
<rect x="78" y="134" width="1" height="1"/>
<rect x="78" y="138" width="1" height="1"/>
<rect x="78" y="142" width="1" height="1"/>
<rect x="78" y="146" width="1" height="1"/>
<rect x="78" y="150" width="1" height="1"/>
<rect x="78" y="154" width="1" height="1"/>
<rect x="78" y="158" width="1" height="1"/>
<rect x="78" y="162" width="1" height="1"/>
<rect x="78" y="166" width="1" height="1"/>
<rect x="78" y="170" width="1" height="1"/>
<rect x="78" y="174" width="1" height="1"/>
<rect x="78" y="178" width="1" height="1"/>
<rect x="78" y="182" width="1" height="1"/>
<rect x="78" y="186" width="1" height="1"/>
<rect x="78" y="190" width="1" height="1"/>
<rect x="78" y="194" width="1" height="1"/>
<rect x="78" y="198" width="1" height="1"/>
<rect x="78" y="202" width="1" height="1"/>
<rect x="78" y="206" width="1" height="1"/>
<rect x="78" y="210" width="1" height="1"/>
<rect x="78" y="214" width="1" height="1"/>
<rect x="78" y="218" width="1" height="1"/>
<rect x="78" y="222" width="1" height="1"/>
<rect x="78" y="226" width="1" height="1"/>
<rect x="78" y="230" width="1" height="1"/>
<rect x="78" y="234" width="1" height="1"/>
<rect x="78" y="238" width="1" height="1"/>
<rect x="78" y="242" width="1" height="1"/>
<rect x="78" y="246" width="1" height="1"/>
<rect x="78" y="250" width="1" height="1"/>
<rect x="78" y="254" width="1" height="1"/>
<rect x="78" y="258" width="1" height="1"/>
<rect x="78" y="262" width="1" height="1"/>
<rect x="78" y="266" width="1" height="1"/>
<rect x="78" y="270" width="1" height="1"/>
<rect x="78" y="274" width="1" height="1"/>
<rect x="78" y="281" width="1" height="1"/>
<rect x="78" y="285" width="1" height="1"/>
<rect x="78" y="289" width="1" height="1"/>
<rect x="78" y="293" width="1" height="1"/>
<rect x="78" y="297" width="1" height="1"/>
<rect x="78" y="301" width="1" height="1"/>
<rect x="78" y="305" width="1" height="1"/>
<rect x="78" y="309" width="1" height="1"/>
<rect x="78" y="313" width="1" height="1"/>
<rect x="78" y="317" width="1" height="1"/>
<rect x="78" y="321" width="1" height="1"/>
<rect x="78" y="325" width="1" height="1"/>
<rect x="78" y="329" width="1" height="1"/>
<rect x="78" y="333" width="1" height="1"/>
<rect x="78" y="337" width="1" height="1"/>
<rect x="78" y="341" width="1" height="1"/>
<rect x="78" y="345" width="1" height="1"/>
<rect x="78" y="349" width="1" height="1"/>
<rect x="78" y="353" width="1" height="1"/>
<rect x="78" y="357" width="1" height="1"/>
<rect x="78" y="361" width="1" height="1"/>
<rect x="78" y="365" width="1" height="1"/>
<rect x="78" y="369" width="1" height="1"/>
<rect x="218" y="2" width="1" height="1"/>
<rect x="218" y="6" width="1" height="1"/>
<rect x="218" y="10" width="1" height="1"/>
<rect x="218" y="14" width="1" height="1"/>
<rect x="218" y="18" width="1" height="1"/>
<rect x="218" y="22" width="1" height="1"/>
<rect x="218" y="26" width="1" height="1"/>
<rect x="218" y="30" width="1" height="1"/>
<rect x="218" y="34" width="1" height="1"/>
<rect x="218" y="38" width="1" height="1"/>
<rect x="218" y="42" width="1" height="1"/>
<rect x="218" y="46" width="1" height="1"/>
<rect x="218" y="50" width="1" height="1"/>
<rect x="218" y="54" width="1" height="1"/>
<rect x="218" y="58" width="1" height="1"/>
<rect x="218" y="62" width="1" height="1"/>
<rect x="218" y="66" width="1" height="1"/>
<rect x="218" y="70" width="1" height="1"/>
<rect x="218" y="74" width="1" height="1"/>
<rect x="218" y="78" width="1" height="1"/>
<rect x="218" y="82" width="1" height="1"/>
<rect x="218" y="86" width="1" height="1"/>
<rect x="218" y="90" width="1" height="1"/>
<rect x="218" y="94" width="1" height="1"/>
<rect x="218" y="98" width="1" height="1"/>
<rect x="218" y="102" width="1" height="1"/>
<rect x="218" y="106" width="1" height="1"/>
<rect x="218" y="110" width="1" height="1"/>
<rect x="218" y="114" width="1" height="1"/>
<rect x="218" y="118" width="1" height="1"/>
<rect x="218" y="122" width="1" height="1"/>
<rect x="218" y="126" width="1" height="1"/>
<rect x="218" y="130" width="1" height="1"/>
<rect x="218" y="134" width="1" height="1"/>
<rect x="218" y="138" width="1" height="1"/>
<rect x="218" y="142" width="1" height="1"/>
<rect x="218" y="146" width="1" height="1"/>
<rect x="218" y="150" width="1" height="1"/>
<rect x="218" y="154" width="1" height="1"/>
<rect x="218" y="158" width="1" height="1"/>
<rect x="218" y="162" width="1" height="1"/>
<rect x="218" y="166" width="1" height="1"/>
<rect x="218" y="170" width="1" height="1"/>
<rect x="218" y="174" width="1" height="1"/>
<rect x="218" y="178" width="1" height="1"/>
<rect x="218" y="182" width="1" height="1"/>
<rect x="218" y="186" width="1" height="1"/>
<rect x="218" y="190" width="1" height="1"/>
<rect x="218" y="194" width="1" height="1"/>
<rect x="218" y="198" width="1" height="1"/>
<rect x="218" y="202" width="1" height="1"/>
<rect x="218" y="206" width="1" height="1"/>
<rect x="218" y="210" width="1" height="1"/>
<rect x="218" y="214" width="1" height="1"/>
<rect x="218" y="218" width="1" height="1"/>
<rect x="218" y="222" width="1" height="1"/>
<rect x="218" y="226" width="1" height="1"/>
<rect x="218" y="230" width="1" height="1"/>
<rect x="218" y="234" width="1" height="1"/>
<rect x="218" y="238" width="1" height="1"/>
<rect x="218" y="242" width="1" height="1"/>
<rect x="218" y="246" width="1" height="1"/>
<rect x="218" y="250" width="1" height="1"/>
<rect x="218" y="254" width="1" height="1"/>
<rect x="218" y="258" width="1" height="1"/>
<rect x="218" y="262" width="1" height="1"/>
<rect x="218" y="266" width="1" height="1"/>
<rect x="218" y="270" width="1" height="1"/>
<rect x="218" y="274" width="1" height="1"/>
<rect x="218" y="281" width="1" height="1"/>
<rect x="218" y="285" width="1" height="1"/>
<rect x="218" y="289" width="1" height="1"/>
<rect x="218" y="293" width="1" height="1"/>
<rect x="218" y="297" width="1" height="1"/>
<rect x="218" y="301" width="1" height="1"/>
<rect x="218" y="305" width="1" height="1"/>
<rect x="218" y="309" width="1" height="1"/>
<rect x="218" y="313" width="1" height="1"/>
<rect x="218" y="317" width="1" height="1"/>
<rect x="218" y="321" width="1" height="1"/>
<rect x="218" y="325" width="1" height="1"/>
<rect x="218" y="329" width="1" height="1"/>
<rect x="218" y="333" width="1" height="1"/>
<rect x="218" y="337" width="1" height="1"/>
<rect x="218" y="341" width="1" height="1"/>
<rect x="218" y="345" width="1" height="1"/>
<rect x="218" y="349" width="1" height="1"/>
<rect x="218" y="353" width="1" height="1"/>
<rect x="218" y="357" width="1" height="1"/>
<rect x="218" y="361" width="1" height="1"/>
<rect x="218" y="365" width="1" height="1"/>
<rect x="218" y="369" width="1" height="1"/>
<rect x="365" y="2" width="1" height="1"/>
<rect x="365" y="6" width="1" height="1"/>
<rect x="365" y="10" width="1" height="1"/>
<rect x="365" y="14" width="1" height="1"/>
<rect x="365" y="18" width="1" height="1"/>
<rect x="365" y="22" width="1" height="1"/>
<rect x="365" y="26" width="1" height="1"/>
<rect x="365" y="30" width="1" height="1"/>
<rect x="365" y="34" width="1" height="1"/>
<rect x="365" y="38" width="1" height="1"/>
<rect x="365" y="42" width="1" height="1"/>
<rect x="365" y="46" width="1" height="1"/>
<rect x="365" y="50" width="1" height="1"/>
<rect x="365" y="54" width="1" height="1"/>
<rect x="365" y="58" width="1" height="1"/>
<rect x="365" y="62" width="1" height="1"/>
<rect x="365" y="66" width="1" height="1"/>
<rect x="365" y="70" width="1" height="1"/>
<rect x="365" y="74" width="1" height="1"/>
<rect x="365" y="78" width="1" height="1"/>
<rect x="365" y="82" width="1" height="1"/>
<rect x="365" y="86" width="1" height="1"/>
<rect x="365" y="90" width="1" height="1"/>
<rect x="365" y="94" width="1" height="1"/>
<rect x="365" y="98" width="1" height="1"/>
<rect x="365" y="102" width="1" height="1"/>
<rect x="365" y="106" width="1" height="1"/>
<rect x="365" y="110" width="1" height="1"/>
<rect x="365" y="114" width="1" height="1"/>
<rect x="365" y="118" width="1" height="1"/>
<rect x="365" y="122" width="1" height="1"/>
<rect x="365" y="126" width="1" height="1"/>
<rect x="365" y="130" width="1" height="1"/>
<rect x="365" y="134" width="1" height="1"/>
<rect x="365" y="138" width="1" height="1"/>
<rect x="365" y="142" width="1" height="1"/>
<rect x="365" y="146" width="1" height="1"/>
<rect x="365" y="150" width="1" height="1"/>
<rect x="365" y="154" width="1" height="1"/>
<rect x="365" y="158" width="1" height="1"/>
<rect x="365" y="162" width="1" height="1"/>
<rect x="365" y="166" width="1" height="1"/>
<rect x="365" y="170" width="1" height="1"/>
<rect x="365" y="174" width="1" height="1"/>
<rect x="365" y="178" width="1" height="1"/>
<rect x="365" y="182" width="1" height="1"/>
<rect x="365" y="186" width="1" height="1"/>
<rect x="365" y="190" width="1" height="1"/>
<rect x="365" y="194" width="1" height="1"/>
<rect x="365" y="198" width="1" height="1"/>
<rect x="365" y="202" width="1" height="1"/>
<rect x="365" y="206" width="1" height="1"/>
<rect x="365" y="210" width="1" height="1"/>
<rect x="365" y="214" width="1" height="1"/>
<rect x="365" y="218" width="1" height="1"/>
<rect x="365" y="222" width="1" height="1"/>
<rect x="365" y="226" width="1" height="1"/>
<rect x="365" y="230" width="1" height="1"/>
<rect x="365" y="234" width="1" height="1"/>
<rect x="365" y="238" width="1" height="1"/>
<rect x="365" y="242" width="1" height="1"/>
<rect x="365" y="246" width="1" height="1"/>
<rect x="365" y="250" width="1" height="1"/>
<rect x="365" y="254" width="1" height="1"/>
<rect x="365" y="258" width="1" height="1"/>
<rect x="365" y="262" width="1" height="1"/>
<rect x="365" y="266" width="1" height="1"/>
<rect x="365" y="270" width="1" height="1"/>
<rect x="365" y="274" width="1" height="1"/>
<rect x="365" y="281" width="1" height="1"/>
<rect x="365" y="285" width="1" height="1"/>
<rect x="365" y="289" width="1" height="1"/>
<rect x="365" y="293" width="1" height="1"/>
<rect x="365" y="297" width="1" height="1"/>
<rect x="365" y="301" width="1" height="1"/>
<rect x="365" y="305" width="1" height="1"/>
<rect x="365" y="309" width="1" height="1"/>
<rect x="365" y="313" width="1" height="1"/>
<rect x="365" y="317" width="1" height="1"/>
<rect x="365" y="321" width="1" height="1"/>
<rect x="365" y="325" width="1" height="1"/>
<rect x="365" y="329" width="1" height="1"/>
<rect x="365" y="333" width="1" height="1"/>
<rect x="365" y="337" width="1" height="1"/>
<rect x="365" y="341" width="1" height="1"/>
<rect x="365" y="345" width="1" height="1"/>
<rect x="365" y="349" width="1" height="1"/>
<rect x="365" y="353" width="1" height="1"/>
<rect x="365" y="357" width="1" height="1"/>
<rect x="365" y="361" width="1" height="1"/>
<rect x="365" y="365" width="1" height="1"/>
<rect x="365" y="369" width="1" height="1"/>
<rect x="512" y="2" width="1" height="1"/>
<rect x="512" y="6" width="1" height="1"/>
<rect x="512" y="10" width="1" height="1"/>
<rect x="512" y="14" width="1" height="1"/>
<rect x="512" y="18" width="1" height="1"/>
<rect x="512" y="22" width="1" height="1"/>
<rect x="512" y="26" width="1" height="1"/>
<rect x="512" y="30" width="1" height="1"/>
<rect x="512" y="34" width="1" height="1"/>
<rect x="512" y="38" width="1" height="1"/>
<rect x="512" y="42" width="1" height="1"/>
<rect x="512" y="46" width="1" height="1"/>
<rect x="512" y="50" width="1" height="1"/>
<rect x="512" y="54" width="1" height="1"/>
<rect x="512" y="58" width="1" height="1"/>
<rect x="512" y="62" width="1" height="1"/>
<rect x="512" y="66" width="1" height="1"/>
<rect x="512" y="70" width="1" height="1"/>
<rect x="512" y="74" width="1" height="1"/>
<rect x="512" y="78" width="1" height="1"/>
<rect x="512" y="82" width="1" height="1"/>
<rect x="512" y="86" width="1" height="1"/>
<rect x="512" y="90" width="1" height="1"/>
<rect x="512" y="94" width="1" height="1"/>
<rect x="512" y="98" width="1" height="1"/>
<rect x="512" y="102" width="1" height="1"/>
<rect x="512" y="106" width="1" height="1"/>
<rect x="512" y="110" width="1" height="1"/>
<rect x="512" y="114" width="1" height="1"/>
<rect x="512" y="118" width="1" height="1"/>
<rect x="512" y="122" width="1" height="1"/>
<rect x="512" y="126" width="1" height="1"/>
<rect x="512" y="130" width="1" height="1"/>
<rect x="512" y="134" width="1" height="1"/>
<rect x="512" y="138" width="1" height="1"/>
<rect x="512" y="142" width="1" height="1"/>
<rect x="512" y="146" width="1" height="1"/>
<rect x="512" y="150" width="1" height="1"/>
<rect x="512" y="154" width="1" height="1"/>
<rect x="512" y="158" width="1" height="1"/>
<rect x="512" y="162" width="1" height="1"/>
<rect x="512" y="166" width="1" height="1"/>
<rect x="512" y="170" width="1" height="1"/>
<rect x="512" y="174" width="1" height="1"/>
<rect x="512" y="178" width="1" height="1"/>
<rect x="512" y="182" width="1" height="1"/>
<rect x="512" y="186" width="1" height="1"/>
<rect x="512" y="190" width="1" height="1"/>
<rect x="512" y="194" width="1" height="1"/>
<rect x="512" y="198" width="1" height="1"/>
<rect x="512" y="202" width="1" height="1"/>
<rect x="512" y="206" width="1" height="1"/>
<rect x="512" y="210" width="1" height="1"/>
<rect x="512" y="214" width="1" height="1"/>
<rect x="512" y="218" width="1" height="1"/>
<rect x="512" y="222" width="1" height="1"/>
<rect x="512" y="226" width="1" height="1"/>
<rect x="512" y="230" width="1" height="1"/>
<rect x="512" y="234" width="1" height="1"/>
<rect x="512" y="238" width="1" height="1"/>
<rect x="512" y="242" width="1" height="1"/>
<rect x="512" y="246" width="1" height="1"/>
<rect x="512" y="250" width="1" height="1"/>
<rect x="512" y="254" width="1" height="1"/>
<rect x="512" y="258" width="1" height="1"/>
<rect x="512" y="262" width="1" height="1"/>
<rect x="512" y="266" width="1" height="1"/>
<rect x="512" y="270" width="1" height="1"/>
<rect x="512" y="274" width="1" height="1"/>
<rect x="512" y="281" width="1" height="1"/>
<rect x="512" y="285" width="1" height="1"/>
<rect x="512" y="289" width="1" height="1"/>
<rect x="512" y="293" width="1" height="1"/>
<rect x="512" y="297" width="1" height="1"/>
<rect x="512" y="301" width="1" height="1"/>
<rect x="512" y="305" width="1" height="1"/>
<rect x="512" y="309" width="1" height="1"/>
<rect x="512" y="313" width="1" height="1"/>
<rect x="512" y="317" width="1" height="1"/>
<rect x="512" y="321" width="1" height="1"/>
<rect x="512" y="325" width="1" height="1"/>
<rect x="512" y="329" width="1" height="1"/>
<rect x="512" y="333" width="1" height="1"/>
<rect x="512" y="337" width="1" height="1"/>
<rect x="512" y="341" width="1" height="1"/>
<rect x="512" y="345" width="1" height="1"/>
<rect x="512" y="349" width="1" height="1"/>
<rect x="512" y="353" width="1" height="1"/>
<rect x="512" y="357" width="1" height="1"/>
<rect x="512" y="361" width="1" height="1"/>
<rect x="512" y="365" width="1" height="1"/>
<rect x="512" y="369" width="1" height="1"/>
<rect x="659" y="2" width="1" height="1"/>
<rect x="659" y="6" width="1" height="1"/>
<rect x="659" y="10" width="1" height="1"/>
<rect x="659" y="14" width="1" height="1"/>
<rect x="659" y="18" width="1" height="1"/>
<rect x="659" y="22" width="1" height="1"/>
<rect x="659" y="26" width="1" height="1"/>
<rect x="659" y="30" width="1" height="1"/>
<rect x="659" y="34" width="1" height="1"/>
<rect x="659" y="38" width="1" height="1"/>
<rect x="659" y="42" width="1" height="1"/>
<rect x="659" y="46" width="1" height="1"/>
<rect x="659" y="50" width="1" height="1"/>
<rect x="659" y="54" width="1" height="1"/>
<rect x="659" y="58" width="1" height="1"/>
<rect x="659" y="62" width="1" height="1"/>
<rect x="659" y="66" width="1" height="1"/>
<rect x="659" y="70" width="1" height="1"/>
<rect x="659" y="74" width="1" height="1"/>
<rect x="659" y="78" width="1" height="1"/>
<rect x="659" y="82" width="1" height="1"/>
<rect x="659" y="86" width="1" height="1"/>
<rect x="659" y="90" width="1" height="1"/>
<rect x="659" y="94" width="1" height="1"/>
<rect x="659" y="98" width="1" height="1"/>
<rect x="659" y="102" width="1" height="1"/>
<rect x="659" y="106" width="1" height="1"/>
<rect x="659" y="110" width="1" height="1"/>
<rect x="659" y="114" width="1" height="1"/>
<rect x="659" y="118" width="1" height="1"/>
<rect x="659" y="122" width="1" height="1"/>
<rect x="659" y="126" width="1" height="1"/>
<rect x="659" y="130" width="1" height="1"/>
<rect x="659" y="134" width="1" height="1"/>
<rect x="659" y="138" width="1" height="1"/>
<rect x="659" y="142" width="1" height="1"/>
<rect x="659" y="146" width="1" height="1"/>
<rect x="659" y="150" width="1" height="1"/>
<rect x="659" y="154" width="1" height="1"/>
<rect x="659" y="158" width="1" height="1"/>
<rect x="659" y="162" width="1" height="1"/>
<rect x="659" y="166" width="1" height="1"/>
<rect x="659" y="170" width="1" height="1"/>
<rect x="659" y="174" width="1" height="1"/>
<rect x="659" y="178" width="1" height="1"/>
<rect x="659" y="182" width="1" height="1"/>
<rect x="659" y="186" width="1" height="1"/>
<rect x="659" y="190" width="1" height="1"/>
<rect x="659" y="194" width="1" height="1"/>
<rect x="659" y="198" width="1" height="1"/>
<rect x="659" y="202" width="1" height="1"/>
<rect x="659" y="206" width="1" height="1"/>
<rect x="659" y="210" width="1" height="1"/>
<rect x="659" y="214" width="1" height="1"/>
<rect x="659" y="218" width="1" height="1"/>
<rect x="659" y="222" width="1" height="1"/>
<rect x="659" y="226" width="1" height="1"/>
<rect x="659" y="230" width="1" height="1"/>
<rect x="659" y="234" width="1" height="1"/>
<rect x="659" y="238" width="1" height="1"/>
<rect x="659" y="242" width="1" height="1"/>
<rect x="659" y="246" width="1" height="1"/>
<rect x="659" y="250" width="1" height="1"/>
<rect x="659" y="254" width="1" height="1"/>
<rect x="659" y="258" width="1" height="1"/>
<rect x="659" y="262" width="1" height="1"/>
<rect x="659" y="266" width="1" height="1"/>
<rect x="659" y="270" width="1" height="1"/>
<rect x="659" y="274" width="1" height="1"/>
<rect x="659" y="281" width="1" height="1"/>
<rect x="659" y="285" width="1" height="1"/>
<rect x="659" y="289" width="1" height="1"/>
<rect x="659" y="293" width="1" height="1"/>
<rect x="659" y="297" width="1" height="1"/>
<rect x="659" y="301" width="1" height="1"/>
<rect x="659" y="305" width="1" height="1"/>
<rect x="659" y="309" width="1" height="1"/>
<rect x="659" y="313" width="1" height="1"/>
<rect x="659" y="317" width="1" height="1"/>
<rect x="659" y="321" width="1" height="1"/>
<rect x="659" y="325" width="1" height="1"/>
<rect x="659" y="329" width="1" height="1"/>
<rect x="659" y="333" width="1" height="1"/>
<rect x="659" y="337" width="1" height="1"/>
<rect x="659" y="341" width="1" height="1"/>
<rect x="659" y="345" width="1" height="1"/>
<rect x="659" y="349" width="1" height="1"/>
<rect x="659" y="353" width="1" height="1"/>
<rect x="659" y="357" width="1" height="1"/>
<rect x="659" y="361" width="1" height="1"/>
<rect x="659" y="365" width="1" height="1"/>
<rect x="659" y="369" width="1" height="1"/>
<rect x="8" y="327" width="1" height="1"/>
<rect x="15" y="327" width="1" height="1"/>
<rect x="22" y="327" width="1" height="1"/>
<rect x="29" y="327" width="1" height="1"/>
<rect x="36" y="327" width="1" height="1"/>
<rect x="43" y="327" width="1" height="1"/>
<rect x="50" y="327" width="1" height="1"/>
<rect x="57" y="327" width="1" height="1"/>
<rect x="64" y="327" width="1" height="1"/>
<rect x="71" y="327" width="1" height="1"/>
<rect x="78" y="327" width="1" height="1"/>
<rect x="85" y="327" width="1" height="1"/>
<rect x="92" y="327" width="1" height="1"/>
<rect x="99" y="327" width="1" height="1"/>
<rect x="106" y="327" width="1" height="1"/>
<rect x="113" y="327" width="1" height="1"/>
<rect x="120" y="327" width="1" height="1"/>
<rect x="127" y="327" width="1" height="1"/>
<rect x="134" y="327" width="1" height="1"/>
<rect x="141" y="327" width="1" height="1"/>
<rect x="148" y="327" width="1" height="1"/>
<rect x="155" y="327" width="1" height="1"/>
<rect x="162" y="327" width="1" height="1"/>
<rect x="169" y="327" width="1" height="1"/>
<rect x="176" y="327" width="1" height="1"/>
<rect x="183" y="327" width="1" height="1"/>
<rect x="190" y="327" width="1" height="1"/>
<rect x="197" y="327" width="1" height="1"/>
<rect x="204" y="327" width="1" height="1"/>
<rect x="211" y="327" width="1" height="1"/>
<rect x="218" y="327" width="1" height="1"/>
<rect x="225" y="327" width="1" height="1"/>
<rect x="232" y="327" width="1" height="1"/>
<rect x="239" y="327" width="1" height="1"/>
<rect x="246" y="327" width="1" height="1"/>
<rect x="253" y="327" width="1" height="1"/>
<rect x="260" y="327" width="1" height="1"/>
<rect x="267" y="327" width="1" height="1"/>
<rect x="274" y="327" width="1" height="1"/>
<rect x="281" y="327" width="1" height="1"/>
<rect x="288" y="327" width="1" height="1"/>
<rect x="295" y="327" width="1" height="1"/>
<rect x="302" y="327" width="1" height="1"/>
<rect x="309" y="327" width="1" height="1"/>
<rect x="316" y="327" width="1" height="1"/>
<rect x="323" y="327" width="1" height="1"/>
<rect x="330" y="327" width="1" height="1"/>
<rect x="337" y="327" width="1" height="1"/>
<rect x="344" y="327" width="1" height="1"/>
<rect x="351" y="327" width="1" height="1"/>
<rect x="358" y="327" width="1" height="1"/>
<rect x="365" y="327" width="1" height="1"/>
<rect x="372" y="327" width="1" height="1"/>
<rect x="379" y="327" width="1" height="1"/>
<rect x="386" y="327" width="1" height="1"/>
<rect x="393" y="327" width="1" height="1"/>
<rect x="400" y="327" width="1" height="1"/>
<rect x="407" y="327" width="1" height="1"/>
<rect x="414" y="327" width="1" height="1"/>
<rect x="421" y="327" width="1" height="1"/>
<rect x="428" y="327" width="1" height="1"/>
<rect x="435" y="327" width="1" height="1"/>
<rect x="442" y="327" width="1" height="1"/>
<rect x="449" y="327" width="1" height="1"/>
<rect x="456" y="327" width="1" height="1"/>
<rect x="463" y="327" width="1" height="1"/>
<rect x="470" y="327" width="1" height="1"/>
<rect x="477" y="327" width="1" height="1"/>
<rect x="484" y="327" width="1" height="1"/>
<rect x="491" y="327" width="1" height="1"/>
<rect x="498" y="327" width="1" height="1"/>
<rect x="505" y="327" width="1" height="1"/>
<rect x="512" y="327" width="1" height="1"/>
<rect x="519" y="327" width="1" height="1"/>
<rect x="526" y="327" width="1" height="1"/>
<rect x="533" y="327" width="1" height="1"/>
<rect x="540" y="327" width="1" height="1"/>
<rect x="547" y="327" width="1" height="1"/>
<rect x="554" y="327" width="1" height="1"/>
<rect x="561" y="327" width="1" height="1"/>
<rect x="568" y="327" width="1" height="1"/>
<rect x="575" y="327" width="1" height="1"/>
<rect x="582" y="327" width="1" height="1"/>
<rect x="589" y="327" width="1" height="1"/>
<rect x="596" y="327" width="1" height="1"/>
<rect x="603" y="327" width="1" height="1"/>
<rect x="610" y="327" width="1" height="1"/>
<rect x="617" y="327" width="1" height="1"/>
<rect x="624" y="327" width="1" height="1"/>
<rect x="631" y="327" width="1" height="1"/>
<rect x="638" y="327" width="1" height="1"/>
<rect x="645" y="327" width="1" height="1"/>
<rect x="652" y="327" width="1" height="1"/>
<rect x="659" y="327" width="1" height="1"/>
<rect x="666" y="327" width="1" height="1"/>
<rect x="673" y="327" width="1" height="1"/>
<rect x="680" y="327" width="1" height="1"/>
<rect x="687" y="327" width="1" height="1"/>
<rect x="694" y="327" width="1" height="1"/>
<rect x="29" y="304" width="1" height="1"/>
<rect x="57" y="304" width="1" height="1"/>
<rect x="78" y="304" width="1" height="1"/>
<rect x="113" y="304" width="1" height="1"/>
<rect x="148" y="304" width="1" height="1"/>
<rect x="183" y="304" width="1" height="1"/>
<rect x="218" y="304" width="1" height="1"/>
<rect x="253" y="304" width="1" height="1"/>
<rect x="288" y="304" width="1" height="1"/>
<rect x="323" y="304" width="1" height="1"/>
<rect x="358" y="304" width="1" height="1"/>
<rect x="393" y="304" width="1" height="1"/>
<rect x="428" y="304" width="1" height="1"/>
<rect x="463" y="304" width="1" height="1"/>
<rect x="491" y="304" width="1" height="1"/>
<rect x="519" y="304" width="1" height="1"/>
<rect x="554" y="304" width="1" height="1"/>
<rect x="589" y="304" width="1" height="1"/>
<rect x="624" y="304" width="1" height="1"/>
<rect x="659" y="304" width="1" height="1"/>
<rect x="687" y="304" width="1" height="1"/>
<rect x="29" y="350" width="1" height="1"/>
<rect x="57" y="350" width="1" height="1"/>
<rect x="78" y="350" width="1" height="1"/>
<rect x="113" y="350" width="1" height="1"/>
<rect x="148" y="350" width="1" height="1"/>
<rect x="183" y="350" width="1" height="1"/>
<rect x="218" y="350" width="1" height="1"/>
<rect x="253" y="350" width="1" height="1"/>
<rect x="288" y="350" width="1" height="1"/>
<rect x="323" y="350" width="1" height="1"/>
<rect x="358" y="350" width="1" height="1"/>
<rect x="393" y="350" width="1" height="1"/>
<rect x="428" y="350" width="1" height="1"/>
<rect x="463" y="350" width="1" height="1"/>
<rect x="491" y="350" width="1" height="1"/>
<rect x="519" y="350" width="1" height="1"/>
<rect x="554" y="350" width="1" height="1"/>
<rect x="589" y="350" width="1" height="1"/>
<rect x="624" y="350" width="1" height="1"/>
<rect x="659" y="350" width="1" height="1"/>
<rect x="687" y="350" width="1" height="1"/>
</g>
<g fill="#000" shape-rendering="crispEdges">
<rect x="2" y="307" width="702" height="2"/>
<rect x="2" y="345" width="702" height="1"/>
</g>
<g shape-rendering="crispEdges">
<line x1="210" y1="140.6" x2="705" y2="16.9" stroke="#000" stroke-width="4.1"/>
<line x1="255" y1="246.6" x2="705" y2="184.6" stroke="#000" stroke-width="4.0"/>
<polyline points="7.0,236.5 100.0,236.8 250.0,237.4 257.0,238.6 265.0,238.6 270.0,237.4 290.0,236.8 336.0,234.4 380.0,233.0 476.0,226.5 580.0,220.4 695.0,214.4" fill="none" stroke="#202020" stroke-width="3" stroke-linejoin="round" />
<polyline points="7.0,237.5 55.0,240.5 75.0,241.5 96.0,242.6 145.0,244.8 186.0,247.2 200.0,248.6 255.0,248.8 265.0,248.8 276.0,246.5 289.2,239.0 310.9,232.3 325.8,226.2 339.1,222.9 352.4,214.0 365.7,206.6 383.0,195.8 399.6,184.9 407.9,179.0 420.4,168.6 427.9,166.9 441.2,157.4 452.8,148.3 466.1,140.8 479.4,132.3 491.0,126.5 502.7,122.9 510.0,120.7 520.0,116.6 531.6,114.1 548.2,114.1 554.9,116.9 566.5,122.4 583.1,127.4 593.1,132.9 606.4,139.8 617.0,144.1 627.0,147.8 633.6,151.6 650.2,157.4 656.9,160.8 666.9,166.6 673.5,169.1 683.5,170.4 695.0,172.4" fill="none" stroke="#808080" stroke-width="3" stroke-linejoin="round" />
<polyline points="7.0,236.7 33.0,237.0 60.0,238.2 96.0,239.6 116.0,240.3 145.0,241.6 165.0,242.2 186.0,242.8 194.0,243.1 229.0,244.3 270.0,244.4 290.0,242.4 336.0,236.3 355.7,234.0 383.0,228.2 405.0,219.0 430.0,211.5 444.5,205.8 455.5,201.5 476.0,193.0 482.7,189.5 499.4,183.2 510.0,180.0 516.6,176.5 531.6,170.2 549.9,166.2 566.5,161.9 583.1,157.9 599.7,154.1 616.4,151.3 633.6,149.9 650.2,148.0 666.9,146.3 683.5,146.1 695.0,146.3" fill="none" stroke="#0000ff" stroke-width="3" stroke-linejoin="round" />
<polyline points="11.0,239.6 37.7,240.3 56.5,242.1 75.0,244.1 96.0,245.4 116.0,246.4 152.8,248.2 186.0,249.5 221.5,248.7 255.4,248.1 266.7,245.8 272.0,242.4 281.0,240.3 285.0,233.7 289.2,229.0 295.0,226.6 302.5,223.5 316.2,214.5 329.1,203.2 339.1,199.1 351.6,190.8 358.2,192.4 365.7,187.5 383.0,175.5 393.0,169.9 400.5,165.7 407.9,158.3 416.2,150.0 424.6,142.5 432.9,135.8 439.5,132.3 449.5,124.9 462.8,114.9 474.4,109.6 486.0,108.6 499.4,109.9 510.0,108.3 520.0,107.4 530.0,109.6 535.7,112.4 549.9,123.2 566.5,134.0 578.1,142.3 590.6,154.9 596.4,160.8 601.4,165.2 609.7,165.7 619.7,168.6 627.0,169.9 638.6,170.7 650.2,169.9 661.9,169.9 671.9,171.6 683.5,174.5 695.0,176.9" fill="none" stroke="#00ff00" stroke-width="3" stroke-linejoin="round" />
<polyline points="7.5,330.0 15.0,331.2 22.0,333.0 30.0,341.8 37.5,342.2 43.8,344.2 51.2,339.2 57.5,334.2 64.5,336.8 72.5,334.2 78.8,336.0 87.5,339.2 107.5,340.0 117.5,342.5 127.5,344.2 141.2,340.0 152.5,343.0 165.0,344.2 175.0,343.5 185.0,343.5 190.0,345.0 196.2,343.5 203.8,338.8 211.2,328.8 217.5,326.2 225.0,328.8 232.5,331.2 238.8,329.2 246.2,332.2 253.8,324.8 260.0,329.2 267.5,296.8 273.8,297.2 281.2,291.8 288.2,286.0 295.0,318.0 302.5,318.0 308.8,319.2 316.2,316.8 323.8,313.5 330.0,313.0 337.5,314.2 345.0,310.0 351.2,308.5 358.8,306.2 365.0,307.5 371.2,310.0 376.0,310.0 380.0,308.8 387.0,306.8 393.8,308.5 401.2,307.2 407.5,303.8 414.5,298.5 428.0,298.5 435.5,305.5 442.5,314.8 450.0,307.5 456.2,311.2 463.8,310.0 470.0,311.0 477.5,312.2 484.5,310.0 491.2,314.2 498.8,319.2 505.0,317.2 512.5,317.2 520.0,314.8 526.2,316.0 533.8,326.8 540.8,337.5 547.5,332.5 554.5,332.5 561.2,335.0 567.5,333.0 575.0,335.0 582.5,337.5 589.5,339.2 596.2,335.5 603.8,335.0 610.5,332.2 617.5,334.2 637.5,334.2 646.2,331.2 653.8,332.5 660.0,335.0 666.2,337.2 672.5,339.2 680.0,339.2 687.5,336.8 694.5,334.8" fill="none" stroke="#0000ff" stroke-width="3" stroke-linejoin="round" />
</g>
<g shape-rendering="crispEdges">
<rect x="7" y="238" width="3" height="4" fill="#000"/>
<rect x="6" y="239" width="5" height="2" fill="#000"/>
<rect x="14" y="238" width="3" height="2" fill="#000"/>
<rect x="13" y="238" width="5" height="2" fill="#000"/>
<rect x="21" y="239" width="3" height="2" fill="#000"/>
<rect x="20" y="239" width="5" height="2" fill="#000"/>
<rect x="28" y="241" width="3" height="7" fill="#000"/>
<rect x="27" y="242" width="5" height="3" fill="#000"/>
<rect x="28" y="243" width="3" height="1" fill="#ff0000"/>
<rect x="35" y="244" width="3" height="4" fill="#000"/>
<rect x="34" y="245" width="5" height="1" fill="#000"/>
<rect x="42" y="244" width="3" height="3" fill="#000"/>
<rect x="41" y="245" width="5" height="1" fill="#000"/>
<rect x="49" y="243" width="3" height="4" fill="#000"/>
<rect x="48" y="244" width="5" height="2" fill="#000"/>
<rect x="56" y="240" width="3" height="4" fill="#000"/>
<rect x="55" y="241" width="5" height="2" fill="#000"/>
<rect x="63" y="242" width="3" height="2" fill="#000"/>
<rect x="62" y="243" width="5" height="1" fill="#000"/>
<rect x="70" y="243" width="3" height="2" fill="#000"/>
<rect x="69" y="243" width="5" height="2" fill="#000"/>
<rect x="77" y="243" width="3" height="3" fill="#000"/>
<rect x="76" y="244" width="5" height="1" fill="#000"/>
<rect x="84" y="243" width="3" height="4" fill="#000"/>
<rect x="83" y="244" width="5" height="2" fill="#000"/>
<rect x="91" y="244" width="3" height="3" fill="#000"/>
<rect x="90" y="245" width="5" height="1" fill="#000"/>
<rect x="98" y="245" width="3" height="3" fill="#000"/>
<rect x="97" y="246" width="5" height="1" fill="#000"/>
<rect x="105" y="246" width="3" height="2" fill="#000"/>
<rect x="104" y="246" width="5" height="2" fill="#000"/>
<rect x="112" y="246" width="3" height="2" fill="#000"/>
<rect x="111" y="246" width="5" height="2" fill="#000"/>
<rect x="119" y="247" width="3" height="2" fill="#000"/>
<rect x="118" y="247" width="5" height="2" fill="#000"/>
<rect x="126" y="246" width="3" height="3" fill="#000"/>
<rect x="125" y="247" width="5" height="2" fill="#000"/>
<rect x="133" y="247" width="3" height="3" fill="#000"/>
<rect x="132" y="248" width="5" height="1" fill="#000"/>
<rect x="140" y="246" width="3" height="3" fill="#000"/>
<rect x="139" y="246" width="5" height="2" fill="#000"/>
<rect x="147" y="247" width="3" height="2" fill="#000"/>
<rect x="146" y="247" width="5" height="2" fill="#000"/>
<rect x="154" y="248" width="3" height="1" fill="#000"/>
<rect x="153" y="248" width="5" height="1" fill="#000"/>
<rect x="161" y="247" width="3" height="3" fill="#000"/>
<rect x="160" y="248" width="5" height="2" fill="#000"/>
<rect x="168" y="247" width="3" height="3" fill="#000"/>
<rect x="167" y="248" width="5" height="2" fill="#000"/>
<rect x="175" y="248" width="3" height="3" fill="#000"/>
<rect x="174" y="248" width="5" height="2" fill="#000"/>
<rect x="182" y="248" width="3" height="2" fill="#000"/>
<rect x="181" y="248" width="5" height="2" fill="#000"/>
<rect x="189" y="248" width="3" height="2" fill="#000"/>
<rect x="188" y="248" width="5" height="2" fill="#000"/>
<rect x="196" y="247" width="3" height="3" fill="#000"/>
<rect x="195" y="248" width="5" height="2" fill="#000"/>
<rect x="203" y="246" width="3" height="3" fill="#000"/>
<rect x="202" y="247" width="5" height="2" fill="#000"/>
<rect x="210" y="247" width="3" height="3" fill="#000"/>
<rect x="209" y="247" width="5" height="2" fill="#000"/>
<rect x="217" y="247" width="3" height="2" fill="#000"/>
<rect x="216" y="247" width="5" height="2" fill="#000"/>
<rect x="224" y="247" width="3" height="1" fill="#000"/>
<rect x="223" y="247" width="5" height="1" fill="#000"/>
<rect x="231" y="246" width="3" height="2" fill="#000"/>
<rect x="230" y="247" width="5" height="1" fill="#000"/>
<rect x="238" y="246" width="3" height="3" fill="#000"/>
<rect x="237" y="247" width="5" height="1" fill="#000"/>
<rect x="245" y="246" width="3" height="3" fill="#000"/>
<rect x="244" y="246" width="5" height="2" fill="#000"/>
<rect x="252" y="246" width="3" height="2" fill="#000"/>
<rect x="251" y="246" width="5" height="2" fill="#000"/>
<rect x="259" y="247" width="3" height="1" fill="#000"/>
<rect x="258" y="247" width="5" height="1" fill="#000"/>
<rect x="266" y="220" width="3" height="26" fill="#000"/>
<rect x="265" y="227" width="5" height="17" fill="#000"/>
<rect x="266" y="228" width="3" height="15" fill="#00ff00"/>
<rect x="273" y="220" width="3" height="10" fill="#000"/>
<rect x="272" y="226" width="5" height="1" fill="#000"/>
<rect x="280" y="207" width="3" height="22" fill="#000"/>
<rect x="279" y="215" width="5" height="14" fill="#000"/>
<rect x="280" y="216" width="3" height="12" fill="#00ff00"/>
<rect x="287" y="137" width="3" height="41" fill="#000"/>
<rect x="286" y="153" width="5" height="20" fill="#000"/>
<rect x="287" y="154" width="3" height="18" fill="#00ff00"/>
<rect x="294" y="160" width="3" height="51" fill="#000"/>
<rect x="293" y="160" width="5" height="47" fill="#000"/>
<rect x="294" y="161" width="3" height="45" fill="#ff0000"/>
<rect x="301" y="192" width="3" height="31" fill="#000"/>
<rect x="300" y="208" width="5" height="2" fill="#000"/>
<rect x="308" y="201" width="3" height="13" fill="#000"/>
<rect x="307" y="210" width="5" height="2" fill="#000"/>
<rect x="315" y="201" width="3" height="10" fill="#000"/>
<rect x="314" y="204" width="5" height="5" fill="#000"/>
<rect x="315" y="205" width="3" height="3" fill="#00ff00"/>
<rect x="322" y="188" width="3" height="15" fill="#000"/>
<rect x="321" y="191" width="5" height="12" fill="#000"/>
<rect x="322" y="192" width="3" height="10" fill="#00ff00"/>
<rect x="329" y="183" width="3" height="10" fill="#000"/>
<rect x="328" y="191" width="5" height="2" fill="#000"/>
<rect x="329" y="191" width="3" height="1" fill="#00ff00"/>
<rect x="336" y="189" width="3" height="6" fill="#000"/>
<rect x="335" y="191" width="5" height="1" fill="#000"/>
<rect x="343" y="176" width="3" height="14" fill="#000"/>
<rect x="342" y="178" width="5" height="12" fill="#000"/>
<rect x="343" y="179" width="3" height="10" fill="#00ff00"/>
<rect x="350" y="160" width="3" height="19" fill="#000"/>
<rect x="349" y="171" width="5" height="5" fill="#000"/>
<rect x="350" y="172" width="3" height="3" fill="#00ff00"/>
<rect x="357" y="145" width="3" height="19" fill="#000"/>
<rect x="356" y="161" width="5" height="3" fill="#000"/>
<rect x="364" y="158" width="3" height="20" fill="#000"/>
<rect x="363" y="160" width="5" height="2" fill="#000"/>
<rect x="364" y="160" width="3" height="1" fill="#ff0000"/>
<rect x="371" y="163" width="3" height="11" fill="#000"/>
<rect x="370" y="169" width="5" height="1" fill="#000"/>
<rect x="378" y="161" width="3" height="9" fill="#000"/>
<rect x="377" y="165" width="5" height="4" fill="#000"/>
<rect x="378" y="166" width="3" height="2" fill="#00ff00"/>
<rect x="385" y="148" width="3" height="11" fill="#000"/>
<rect x="384" y="152" width="5" height="2" fill="#000"/>
<rect x="392" y="148" width="3" height="14" fill="#000"/>
<rect x="391" y="154" width="5" height="2" fill="#000"/>
<rect x="399" y="149" width="3" height="16" fill="#000"/>
<rect x="398" y="149" width="5" height="2" fill="#000"/>
<rect x="406" y="135" width="3" height="13" fill="#000"/>
<rect x="405" y="137" width="5" height="3" fill="#000"/>
<rect x="406" y="138" width="3" height="1" fill="#00ff00"/>
<rect x="413" y="87" width="3" height="41" fill="#000"/>
<rect x="412" y="102" width="5" height="22" fill="#000"/>
<rect x="413" y="103" width="3" height="20" fill="#00ff00"/>
<rect x="420" y="85" width="3" height="29" fill="#000"/>
<rect x="419" y="90" width="5" height="12" fill="#000"/>
<rect x="420" y="91" width="3" height="10" fill="#ff0000"/>
<rect x="427" y="98" width="3" height="14" fill="#000"/>
<rect x="426" y="98" width="5" height="4" fill="#000"/>
<rect x="427" y="99" width="3" height="2" fill="#ff0000"/>
<rect x="434" y="110" width="3" height="14" fill="#000"/>
<rect x="433" y="110" width="5" height="5" fill="#000"/>
<rect x="434" y="111" width="3" height="3" fill="#ff0000"/>
<rect x="441" y="120" width="3" height="35" fill="#000"/>
<rect x="440" y="124" width="5" height="8" fill="#000"/>
<rect x="441" y="125" width="3" height="6" fill="#ff0000"/>
<rect x="448" y="82" width="3" height="54" fill="#000"/>
<rect x="447" y="99" width="5" height="1" fill="#000"/>
<rect x="455" y="101" width="3" height="15" fill="#000"/>
<rect x="454" y="103" width="5" height="4" fill="#000"/>
<rect x="455" y="104" width="3" height="2" fill="#ff0000"/>
<rect x="462" y="97" width="3" height="10" fill="#000"/>
<rect x="461" y="102" width="5" height="1" fill="#000"/>
<rect x="469" y="97" width="3" height="14" fill="#000"/>
<rect x="468" y="101" width="5" height="4" fill="#000"/>
<rect x="469" y="102" width="3" height="2" fill="#ff0000"/>
<rect x="476" y="99" width="3" height="11" fill="#000"/>
<rect x="475" y="103" width="5" height="4" fill="#000"/>
<rect x="476" y="104" width="3" height="2" fill="#ff0000"/>
<rect x="483" y="100" width="3" height="11" fill="#000"/>
<rect x="482" y="102" width="5" height="5" fill="#000"/>
<rect x="483" y="103" width="3" height="3" fill="#00ff00"/>
<rect x="490" y="103" width="3" height="13" fill="#000"/>
<rect x="489" y="105" width="5" height="3" fill="#000"/>
<rect x="490" y="106" width="3" height="1" fill="#ff0000"/>
<rect x="497" y="93" width="3" height="35" fill="#000"/>
<rect x="496" y="95" width="5" height="24" fill="#000"/>
<rect x="497" y="96" width="3" height="22" fill="#ff0000"/>
<rect x="504" y="104" width="3" height="35" fill="#000"/>
<rect x="503" y="112" width="5" height="8" fill="#000"/>
<rect x="504" y="113" width="3" height="6" fill="#00ff00"/>
<rect x="511" y="107" width="3" height="15" fill="#000"/>
<rect x="510" y="111" width="5" height="1" fill="#000"/>
<rect x="518" y="100" width="3" height="20" fill="#000"/>
<rect x="517" y="104" width="5" height="10" fill="#000"/>
<rect x="518" y="105" width="3" height="8" fill="#00ff00"/>
<rect x="525" y="95" width="3" height="17" fill="#000"/>
<rect x="524" y="102" width="5" height="2" fill="#000"/>
<rect x="532" y="92" width="3" height="42" fill="#000"/>
<rect x="531" y="92" width="5" height="33" fill="#000"/>
<rect x="532" y="93" width="3" height="31" fill="#ff0000"/>
<rect x="539" y="138" width="3" height="39" fill="#000"/>
<rect x="538" y="138" width="5" height="29" fill="#000"/>
<rect x="539" y="139" width="3" height="27" fill="#ff0000"/>
<rect x="546" y="145" width="3" height="26" fill="#000"/>
<rect x="545" y="152" width="5" height="19" fill="#000"/>
<rect x="546" y="153" width="3" height="17" fill="#00ff00"/>
<rect x="553" y="143" width="3" height="19" fill="#000"/>
<rect x="552" y="151" width="5" height="2" fill="#000"/>
<rect x="553" y="151" width="3" height="1" fill="#ff0000"/>
<rect x="560" y="157" width="3" height="13" fill="#000"/>
<rect x="559" y="159" width="5" height="3" fill="#000"/>
<rect x="560" y="160" width="3" height="1" fill="#ff0000"/>
<rect x="567" y="154" width="3" height="13" fill="#000"/>
<rect x="566" y="157" width="5" height="3" fill="#000"/>
<rect x="567" y="158" width="3" height="1" fill="#00ff00"/>
<rect x="574" y="155" width="3" height="11" fill="#000"/>
<rect x="573" y="157" width="5" height="7" fill="#000"/>
<rect x="574" y="158" width="3" height="5" fill="#ff0000"/>
<rect x="581" y="162" width="3" height="14" fill="#000"/>
<rect x="580" y="164" width="5" height="8" fill="#000"/>
<rect x="581" y="165" width="3" height="6" fill="#ff0000"/>
<rect x="588" y="170" width="3" height="15" fill="#000"/>
<rect x="587" y="172" width="5" height="7" fill="#000"/>
<rect x="588" y="173" width="3" height="5" fill="#ff0000"/>
<rect x="595" y="162" width="3" height="18" fill="#000"/>
<rect x="594" y="172" width="5" height="3" fill="#000"/>
<rect x="595" y="173" width="3" height="1" fill="#00ff00"/>
<rect x="602" y="163" width="3" height="24" fill="#000"/>
<rect x="601" y="172" width="5" height="4" fill="#000"/>
<rect x="602" y="173" width="3" height="2" fill="#00ff00"/>
<rect x="609" y="159" width="3" height="11" fill="#000"/>
<rect x="608" y="164" width="5" height="5" fill="#000"/>
<rect x="609" y="165" width="3" height="3" fill="#00ff00"/>
<rect x="616" y="161" width="3" height="14" fill="#000"/>
<rect x="615" y="162" width="5" height="7" fill="#000"/>
<rect x="616" y="163" width="3" height="5" fill="#ff0000"/>
<rect x="623" y="164" width="3" height="9" fill="#000"/>
<rect x="622" y="168" width="5" height="3" fill="#000"/>
<rect x="623" y="169" width="3" height="1" fill="#ff0000"/>
<rect x="630" y="168" width="3" height="6" fill="#000"/>
<rect x="629" y="170" width="5" height="2" fill="#000"/>
<rect x="637" y="168" width="3" height="8" fill="#000"/>
<rect x="636" y="172" width="5" height="4" fill="#000"/>
<rect x="637" y="173" width="3" height="2" fill="#00ff00"/>
<rect x="644" y="163" width="3" height="9" fill="#000"/>
<rect x="643" y="165" width="5" height="6" fill="#000"/>
<rect x="644" y="166" width="3" height="4" fill="#00ff00"/>
<rect x="651" y="164" width="3" height="8" fill="#000"/>
<rect x="650" y="168" width="5" height="2" fill="#000"/>
<rect x="658" y="170" width="3" height="4" fill="#000"/>
<rect x="657" y="171" width="5" height="2" fill="#000"/>
<rect x="665" y="174" width="3" height="8" fill="#000"/>
<rect x="664" y="177" width="5" height="2" fill="#000"/>
<rect x="672" y="181" width="3" height="5" fill="#000"/>
<rect x="671" y="182" width="5" height="2" fill="#000"/>
<rect x="679" y="178" width="3" height="8" fill="#000"/>
<rect x="678" y="182" width="5" height="2" fill="#000"/>
<rect x="686" y="178" width="3" height="8" fill="#000"/>
<rect x="685" y="182" width="5" height="2" fill="#000"/>
<rect x="686" y="182" width="3" height="1" fill="#00ff00"/>
<rect x="693" y="174" width="3" height="10" fill="#000"/>
<rect x="692" y="178" width="5" height="2" fill="#000"/>
<rect x="693" y="178" width="3" height="1" fill="#00ff00"/>
</g>
<g shape-rendering="crispEdges">
<rect x="705" y="2" width="1" height="372" fill="#000"/>
<rect x="2" y="373" width="703" height="1" fill="#000"/>
<rect x="29" y="372" width="1" height="3" fill="#000"/>
<rect x="57" y="372" width="1" height="3" fill="#000"/>
<rect x="78" y="372" width="1" height="3" fill="#000"/>
<rect x="113" y="372" width="1" height="3" fill="#000"/>
<rect x="148" y="372" width="1" height="3" fill="#000"/>
<rect x="183" y="372" width="1" height="3" fill="#000"/>
<rect x="218" y="372" width="1" height="3" fill="#000"/>
<rect x="253" y="372" width="1" height="3" fill="#000"/>
<rect x="288" y="372" width="1" height="3" fill="#000"/>
<rect x="323" y="372" width="1" height="3" fill="#000"/>
<rect x="358" y="372" width="1" height="3" fill="#000"/>
<rect x="393" y="372" width="1" height="3" fill="#000"/>
<rect x="428" y="372" width="1" height="3" fill="#000"/>
<rect x="463" y="372" width="1" height="3" fill="#000"/>
<rect x="491" y="372" width="1" height="3" fill="#000"/>
<rect x="519" y="372" width="1" height="3" fill="#000"/>
<rect x="554" y="372" width="1" height="3" fill="#000"/>
<rect x="589" y="372" width="1" height="3" fill="#000"/>
<rect x="624" y="372" width="1" height="3" fill="#000"/>
<rect x="659" y="372" width="1" height="3" fill="#000"/>
<rect x="687" y="372" width="1" height="3" fill="#000"/>
<rect x="0" y="275" width="705" height="1" fill="#dcdcdc"/>
<rect x="0" y="276" width="705" height="1" fill="#fafafa"/>
<rect x="0" y="277" width="705" height="2" fill="#6e6e6e"/>
<rect x="703" y="275" width="2" height="4" fill="#5a5a5a"/>
</g>
<g font-family="Liberation Sans, Arial, sans-serif">
<text x="3.0" y="14" font-size="12.4" font-weight="bold" fill="#000" textLength="54.80" lengthAdjust="spacing">(88E-LON</text>
<text x="64.5" y="14" font-size="12.4" font-weight="bold" fill="#000" >-</text>
<text x="71.2" y="14" font-size="12.4" font-weight="bold" fill="#000" textLength="12.55" lengthAdjust="spacing">88</text>
<text x="90.4" y="14" font-size="12.4" font-weight="bold" fill="#000" textLength="51.40" lengthAdjust="spacing">ENERGY</text>
<text x="146.3" y="14" font-size="12.4" font-weight="bold" fill="#000" textLength="50.29" lengthAdjust="spacing">LIMITED</text>
<text x="201.4" y="14" font-size="12.4" font-weight="bold" fill="#000" textLength="26.40" lengthAdjust="spacing">ORD</text>
<text x="234.2" y="14" font-size="12.4" font-weight="bold" fill="#000" textLength="25.10" lengthAdjust="spacing">NPV</text>
<text x="264.7" y="14" font-size="12.4" font-weight="bold" fill="#000" textLength="36.80" lengthAdjust="spacing">(DI),D)</text>
<text x="307.4" y="14" font-size="12.4" font-weight="bold" fill="#000" >Dynamic</text>
<text x="2.2" y="31" font-size="12.4" font-weight="bold" fill="#0000ff" >MA(50,C)s</text>
<text x="2.2" y="47" font-size="12.4" font-weight="bold" fill="#00ff00" >MA(10,C)s</text>
<text x="2.2" y="63" font-size="12.4" font-weight="bold" fill="#808080" >MA(20,C)s</text>
<text x="2.2" y="79" font-size="12.4" font-weight="bold" fill="#202020" >MA(200,C)s</text>
<text x="2.2" y="293.4" font-size="12.4" font-weight="bold" fill="#0000ff" textLength="57.2" lengthAdjust="spacing">RSI(14,C)</text>
<text x="5" y="273" font-size="9" font-weight="normal" fill="#000" textLength="53" lengthAdjust="spacingAndGlyphs" stroke="#000" stroke-width="0.2">© eSignal, 2011</text>
<text x="710" y="15.5" font-size="12.4" font-weight="bold" fill="#000" >6.000</text>
<text x="710" y="57.5" font-size="12.4" font-weight="bold" fill="#000" >5.000</text>
<text x="710" y="98.5" font-size="12.4" font-weight="bold" fill="#000" >4.000</text>
<text x="710" y="140.5" font-size="12.4" font-weight="bold" fill="#000" >3.000</text>
<text x="710" y="182.5" font-size="12.4" font-weight="bold" fill="#000" >2.000</text>
<text x="710" y="224.5" font-size="12.4" font-weight="bold" fill="#000" >1.000</text>
<text x="710" y="266.5" font-size="12.4" font-weight="bold" fill="#000" >0.000</text>
<text x="707" y="293.5" font-size="12.4" font-weight="bold" fill="#000" >100</text>
<text x="707" y="331.5" font-size="12.4" font-weight="bold" fill="#000" >50</text>
<text x="707" y="369.5" font-size="12.4" font-weight="bold" fill="#000" >0</text>
<text x="29" y="386.5" font-size="12.4" font-weight="bold" fill="#000" >21</text>
<text x="57" y="386.5" font-size="12.4" font-weight="bold" fill="#000" >29</text>
<text x="78" y="386.5" font-size="12.4" font-weight="bold" fill="#000" >04</text>
<text x="113" y="386.5" font-size="12.4" font-weight="bold" fill="#000" >11</text>
<text x="148" y="386.5" font-size="12.4" font-weight="bold" fill="#000" >18</text>
<text x="183" y="386.5" font-size="12.4" font-weight="bold" fill="#000" >25</text>
<text x="218" y="386.5" font-size="12.4" font-weight="bold" fill="#000" >01</text>
<text x="253" y="386.5" font-size="12.4" font-weight="bold" fill="#000" >08</text>
<text x="288" y="386.5" font-size="12.4" font-weight="bold" fill="#000" >15</text>
<text x="323" y="386.5" font-size="12.4" font-weight="bold" fill="#000" >22</text>
<text x="358" y="386.5" font-size="12.4" font-weight="bold" fill="#000" >29</text>
<text x="393" y="386.5" font-size="12.4" font-weight="bold" fill="#000" >07</text>
<text x="428" y="386.5" font-size="12.4" font-weight="bold" fill="#000" >14</text>
<text x="463" y="386.5" font-size="12.4" font-weight="bold" fill="#000" >21</text>
<text x="491" y="386.5" font-size="12.4" font-weight="bold" fill="#000" >29</text>
<text x="519" y="386.5" font-size="12.4" font-weight="bold" fill="#000" >04</text>
<text x="554" y="386.5" font-size="12.4" font-weight="bold" fill="#000" >11</text>
<text x="589" y="386.5" font-size="12.4" font-weight="bold" fill="#000" >18</text>
<text x="624" y="386.5" font-size="12.4" font-weight="bold" fill="#000" >25</text>
<text x="659" y="386.5" font-size="12.4" font-weight="bold" fill="#000" >03</text>
<text x="687" y="386.5" font-size="12.4" font-weight="bold" fill="#000" >09</text>
<text x="78" y="402.5" font-size="12.4" font-weight="bold" fill="#000" >2016</text>
<text x="218" y="402.5" font-size="12.4" font-weight="bold" fill="#000" >Feb</text>
<text x="365" y="402.5" font-size="12.4" font-weight="bold" fill="#000" >Mar</text>
<text x="512" y="402.5" font-size="12.4" font-weight="bold" fill="#000" >Apr</text>
<text x="659" y="402.5" font-size="12.4" font-weight="bold" fill="#000" >May</text>
</g>
<g shape-rendering="crispEdges">
<rect x="706" y="138" width="46" height="16" fill="#0000ff"/>
<rect x="706" y="164" width="46" height="16" fill="#808080"/>
<rect x="706" y="206" width="52" height="16" fill="#202020"/>
</g>
<rect x="706" y="326" width="32" height="15.5" fill="#0000ff"/>
<g font-family="Liberation Sans, Arial, sans-serif">
<text x="707" y="150.4" font-size="12.4" font-weight="bold" fill="#fff" >2.76302</text>
<text x="707" y="176.4" font-size="12.4" font-weight="bold" fill="#fff" >2.14975</text>
<rect x="706" y="168" width="39" height="16" fill="#00ff00" shape-rendering="crispEdges"/>
<text x="707" y="180.4" font-size="12.4" font-weight="bold" fill="#fff" >2.0601</text>
<rect x="706" y="170" width="36" height="16" fill="#00ff00" shape-rendering="crispEdges"/>
<text x="710.5" y="182.5" font-size="12.4" font-weight="bold" fill="#fff" >2.011</text>
<text x="707" y="218.4" font-size="12.4" font-weight="bold" fill="#fff" >1.143405</text>
<text x="706.4" y="338.3" font-size="12.4" font-weight="bold" fill="#fff" >41.94</text>
</g>
<g shape-rendering="crispEdges">
<rect x="331" y="2" width="298" height="15" fill="#c0c0c0"/>
<rect x="331" y="2" width="298" height="1" fill="#9c9c9c"/>
<rect x="331" y="3" width="297" height="1" fill="#e8e8e8"/>
<rect x="331" y="3" width="1" height="13" fill="#e8e8e8"/>
<rect x="331" y="15" width="298" height="1" fill="#a0a0a0"/>
<rect x="331" y="16" width="298" height="1" fill="#8c8c8c"/>
<rect x="628" y="3" width="1" height="14" fill="#808080"/>
<rect x="555" y="3" width="73" height="12" fill="#00ff00"/>
</g>
<g font-family="Liberation Sans, Arial, sans-serif">
<text x="337" y="13.4" font-size="10.25" font-weight="bold" fill="#111" >O:</text>
<text x="354.6" y="13.4" font-size="10.25" font-weight="bold" fill="#111" >1.925</text>
<text x="392.3" y="13.4" font-size="10.25" font-weight="bold" fill="#111" >H:</text>
<text x="408.2" y="13.4" font-size="10.25" font-weight="bold" fill="#111" >2.090</text>
<text x="446.5" y="13.4" font-size="10.25" font-weight="bold" fill="#111" >L:</text>
<text x="459" y="13.4" font-size="10.25" font-weight="bold" fill="#111" >1.8678</text>
<text x="501.7" y="13.4" font-size="10.25" font-weight="bold" fill="#111" >C:</text>
<text x="514.8" y="13.4" font-size="10.25" font-weight="bold" fill="#111" >2.0333</text>
<text x="559.5" y="13.4" font-size="10.25" font-weight="bold" fill="#111" >Net: +0.1083</text>
</g>
<g shape-rendering="crispEdges">
<rect x="0" y="0" width="764" height="1" fill="#d8d8d8"/>
<rect x="0" y="0" width="1" height="408" fill="#d8d8d8"/>
<rect x="1" y="1" width="761" height="1" fill="#6e6e6e"/>
<rect x="1" y="1" width="1" height="404" fill="#6e6e6e"/>
<rect x="762" y="0" width="2" height="408" fill="#e2e2e2"/>
<rect x="0" y="405" width="764" height="1" fill="#e0e0e0"/>
<rect x="0" y="406" width="764" height="1" fill="#f4f4f4"/>
<rect x="0" y="407" width="764" height="1" fill="#000"/>
<rect x="0" y="408" width="764" height="13" fill="#ececec"/>
<rect x="0" y="420" width="764" height="1" fill="#d8d8d8"/>
<rect x="0" y="408" width="1" height="13" fill="#d0d0d0"/>
</g>
<g font-family="Liberation Sans, Arial, sans-serif">
<text x="589.5" y="417" font-size="10" font-weight="normal" fill="#000" textLength="169.5" lengthAdjust="spacingAndGlyphs">Published by eSignal (www.esignal.com)</text>
</g>
</svg>
</body></html>
